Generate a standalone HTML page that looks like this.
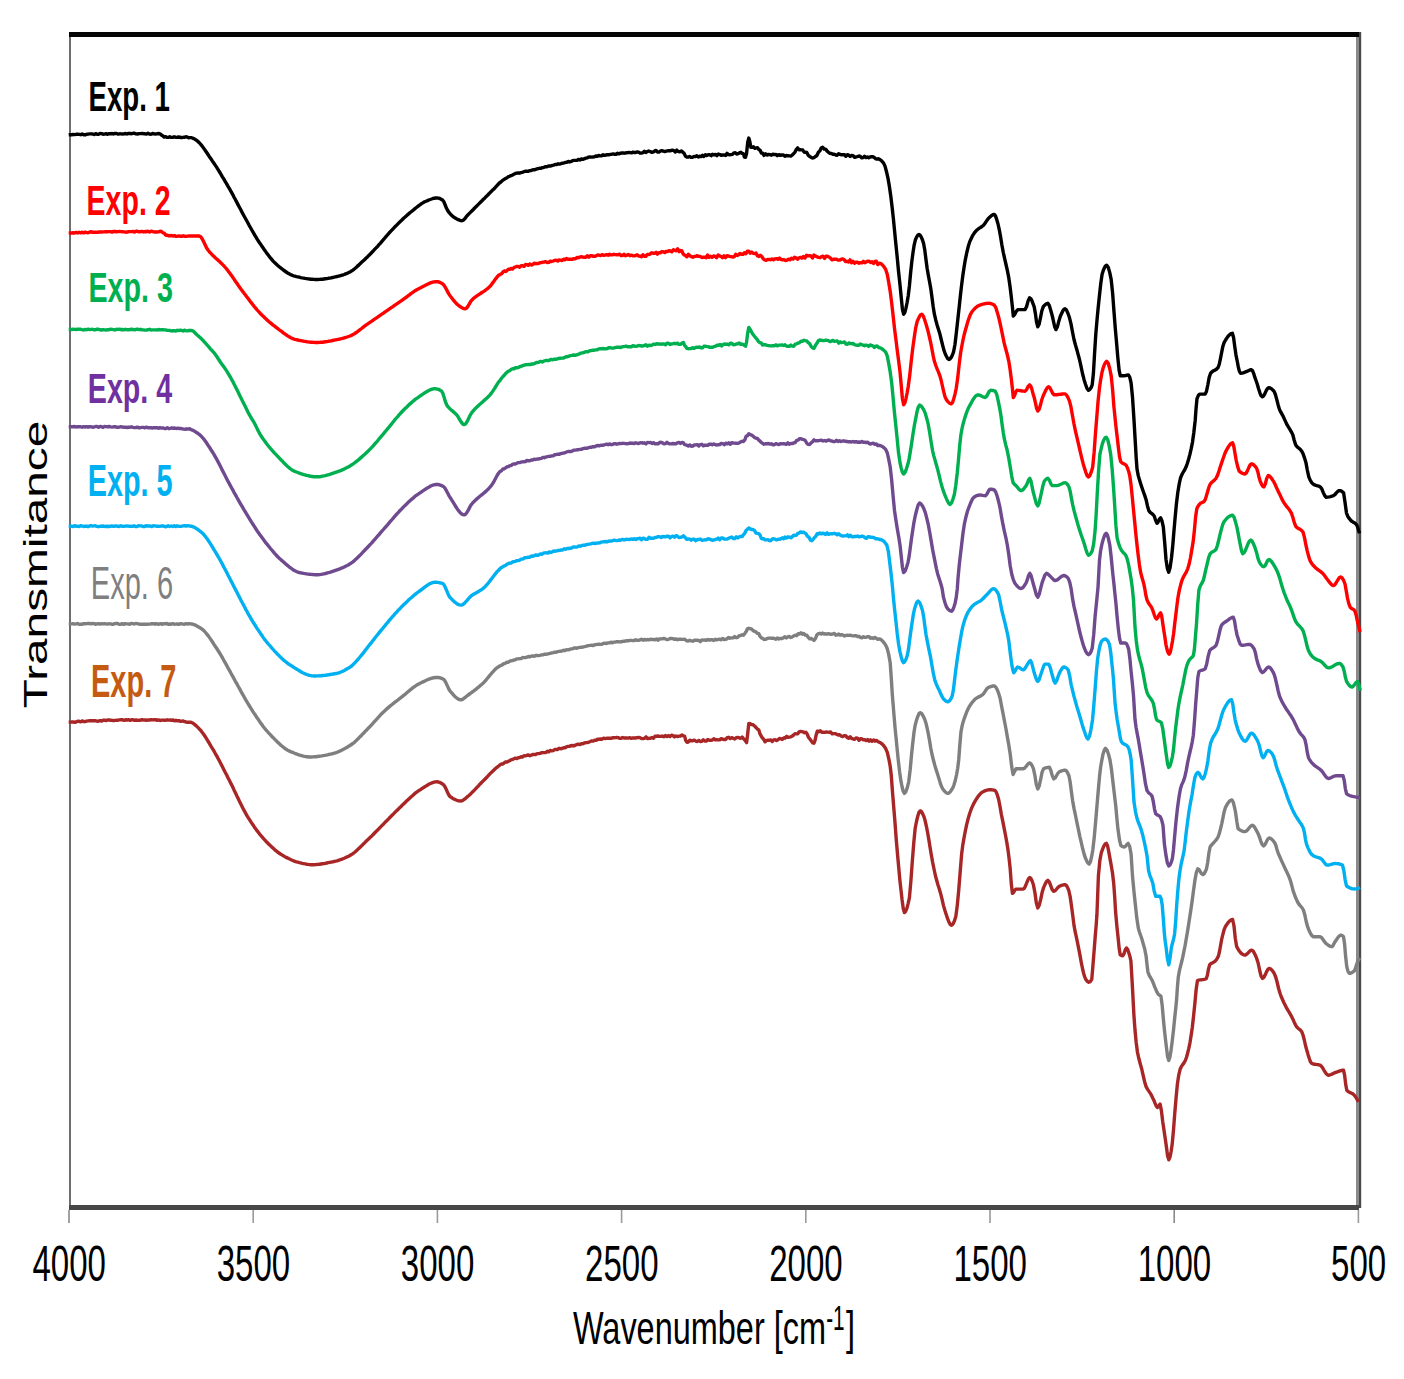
<!DOCTYPE html>
<html><head><meta charset="utf-8"><style>html,body{margin:0;padding:0;background:#fff;}svg{display:block;}</style></head><body>
<svg width="1404" height="1379" viewBox="0 0 1404 1379">
<rect width="1404" height="1379" fill="#fff"/>
<rect x="69" y="35" width="2" height="1173" fill="#6e6e6e"/>
<rect x="1356" y="32" width="2.6" height="1176" fill="#8a8a8a"/>
<rect x="1358.6" y="32" width="2.6" height="1176" fill="#4a4a4a"/>
<rect x="69" y="32" width="1290" height="5" fill="#050505"/>
<rect x="69" y="1205" width="1290" height="5" fill="#474747"/>
<polyline points="68.7,722.2 70.2,722.1 71.7,722.0 73.2,722.0 74.7,722.2 76.2,722.0 77.7,721.3 79.2,721.3 80.7,721.8 82.2,720.9 83.7,721.6 85.2,721.5 86.7,721.1 88.2,720.9 89.7,720.8 91.2,720.7 92.6,720.8 94.1,720.8 95.6,720.8 97.1,721.2 98.6,721.0 100.1,720.7 101.6,721.1 103.1,720.2 104.6,720.2 106.1,720.6 107.6,720.0 109.1,719.9 110.6,720.4 112.1,720.3 113.6,720.7 115.1,720.4 116.6,720.3 118.1,720.2 119.6,719.9 121.1,719.7 122.6,719.8 124.1,720.3 125.6,719.8 127.1,720.0 128.6,719.6 130.1,720.4 131.6,719.7 133.1,719.8 134.6,720.4 136.1,720.0 137.5,720.4 139.0,720.2 140.5,720.3 142.0,719.6 143.5,720.1 145.0,720.0 146.5,720.4 148.0,719.9 149.5,720.1 151.0,719.6 152.5,719.9 154.0,719.8 155.5,719.7 157.0,720.3 158.5,719.9 160.0,720.5 161.5,720.1 162.9,720.1 164.4,720.2 165.8,720.2 167.3,719.8 168.7,720.1 170.2,720.0 171.6,720.2 173.1,720.0 174.5,720.9 176.0,720.3 177.4,720.8 178.9,720.6 180.3,721.3 181.8,721.2 183.2,720.9 184.7,721.7 186.1,722.0 187.6,722.2 189.0,722.1 190.5,722.2 191.9,722.6 193.4,723.5 194.8,724.6 196.3,725.9 197.8,727.4 199.2,728.8 200.7,730.4 202.1,732.2 203.6,734.2 205.0,736.3 206.5,738.6 207.9,741.0 209.4,743.4 210.8,745.9 212.3,748.3 213.8,750.7 215.2,753.3 216.7,755.9 218.1,758.5 219.6,761.3 221.0,764.0 222.4,766.8 223.9,769.7 225.3,772.5 226.8,775.3 228.2,778.2 229.7,781.0 231.1,783.9 232.6,786.8 234.0,789.9 235.5,792.9 236.9,796.0 238.4,799.1 239.8,802.1 241.3,805.1 242.8,808.0 244.2,810.7 245.7,813.3 247.1,815.8 248.5,818.1 250.0,820.4 251.4,822.6 252.9,824.8 254.3,826.9 255.8,829.0 257.2,830.9 258.7,832.8 260.1,834.7 261.6,836.4 263.1,838.1 264.5,839.7 265.9,841.2 267.4,842.7 268.9,844.2 270.3,845.6 271.8,847.0 273.2,848.3 274.6,849.6 276.1,850.8 277.5,852.0 279.0,853.0 280.4,854.0 281.9,854.9 283.3,855.7 284.8,856.6 286.2,857.4 287.7,858.1 289.1,858.8 290.6,859.5 292.1,860.2 293.5,860.8 294.9,861.3 296.4,861.8 297.9,862.2 299.3,862.6 300.7,862.9 302.2,863.3 303.6,863.6 305.1,863.9 306.5,864.2 308.0,864.4 309.4,864.6 310.9,864.7 312.3,864.7 313.8,864.7 315.2,864.6 316.7,864.5 318.1,864.4 319.6,864.2 321.0,864.0 322.5,863.8 323.9,863.6 325.4,863.3 326.8,863.0 328.3,862.7 329.7,862.4 331.2,862.1 332.6,861.8 334.1,861.5 335.5,861.2 337.0,860.8 338.4,860.3 339.9,859.9 341.3,859.3 342.8,858.8 344.2,858.2 345.7,857.5 347.1,856.9 348.6,856.2 350.0,855.4 351.4,854.6 352.9,853.6 354.4,852.5 355.8,851.3 357.2,850.0 358.7,848.6 360.1,847.2 361.6,845.8 363.0,844.3 364.5,842.9 365.9,841.5 367.4,840.1 368.8,838.7 370.3,837.3 371.8,835.9 373.2,834.5 374.6,833.0 376.1,831.5 377.6,830.1 379.0,828.6 380.4,827.1 381.9,825.6 383.4,824.2 384.8,822.7 386.2,821.2 387.7,819.8 389.1,818.3 390.6,816.8 392.1,815.3 393.5,813.9 394.9,812.4 396.4,810.9 397.9,809.5 399.3,808.1 400.8,806.7 402.2,805.3 403.6,803.9 405.1,802.5 406.6,801.1 408.0,799.8 409.4,798.4 410.9,797.0 412.4,795.7 413.8,794.4 415.2,793.2 416.7,792.1 418.2,791.0 419.6,790.1 421.1,789.2 422.5,788.2 424.0,787.3 425.4,786.4 426.9,785.5 428.3,784.6 429.8,783.8 431.2,783.2 432.6,782.6 434.1,782.2 435.6,781.9 437.0,781.8 438.3,782.0 439.6,782.4 440.9,783.0 442.2,783.8 443.5,784.7 444.8,786.4 446.1,789.1 447.5,792.2 448.8,794.9 450.1,796.6 451.5,797.5 452.8,798.4 454.1,799.1 455.5,799.7 456.9,800.3 458.2,800.7 459.5,800.9 460.9,801.0 462.2,800.7 463.5,799.9 464.9,798.9 466.2,797.7 467.5,796.6 468.9,795.5 470.3,794.2 471.6,792.9 473.0,791.5 474.4,790.1 475.8,788.6 477.2,787.1 478.6,785.7 479.9,784.2 481.3,782.8 482.7,781.4 484.1,780.0 485.6,778.5 487.1,777.0 488.5,775.4 489.9,773.9 491.4,772.4 492.9,771.0 494.3,769.6 495.8,768.3 497.2,767.1 498.7,766.0 500.1,764.7 501.5,764.0 502.9,764.0 504.2,762.9 505.6,761.9 507.0,762.0 508.4,761.2 509.8,760.6 511.2,759.8 512.5,759.4 513.9,758.7 515.3,758.1 516.8,758.6 518.2,757.7 519.7,757.5 521.1,756.8 522.6,757.0 524.0,755.8 525.5,755.9 526.9,755.2 528.4,755.0 529.8,755.7 531.3,755.1 532.7,754.5 534.2,754.4 535.6,754.5 537.1,753.6 538.5,753.6 540.0,753.4 541.4,752.8 542.9,752.6 544.3,752.6 545.8,752.5 547.3,751.3 548.8,751.8 550.2,750.4 551.7,750.9 553.2,750.6 554.7,749.5 556.2,749.5 557.7,749.6 559.1,748.3 560.6,748.7 562.1,748.5 563.6,747.8 565.1,747.7 566.5,746.8 568.0,746.4 569.5,746.3 571.0,745.7 572.5,745.5 574.0,745.9 575.4,745.1 576.9,744.5 578.4,744.1 579.9,744.6 581.4,743.7 582.8,743.9 584.3,743.0 585.8,742.6 587.3,742.6 588.8,742.1 590.3,741.5 591.7,740.9 593.2,741.1 594.7,740.2 596.2,740.4 597.7,739.1 599.1,739.2 600.6,739.0 602.1,739.2 603.6,738.2 605.1,738.6 606.6,738.3 608.0,738.2 609.5,738.1 611.0,738.4 612.5,737.7 613.9,737.8 615.4,737.6 616.8,737.4 618.2,737.6 619.7,738.4 621.1,738.3 622.6,737.5 624.0,738.0 625.5,737.9 627.0,738.0 628.4,738.1 629.9,737.7 631.3,738.4 632.8,737.9 634.2,738.0 635.6,738.0 637.1,737.6 638.5,737.4 640.0,737.7 641.5,738.5 643.0,738.6 644.5,738.3 646.0,736.9 647.5,738.6 649.0,738.3 650.5,738.4 652.0,737.5 653.5,738.3 655.0,736.3 656.5,736.2 658.0,736.0 659.5,736.4 661.0,736.3 662.5,736.1 664.0,736.8 665.5,735.5 667.0,736.6 668.5,735.6 670.0,736.6 671.5,735.1 673.0,735.6 674.5,736.9 676.0,736.0 677.5,736.5 679.0,736.1 680.5,736.0 682.0,735.0 683.5,735.9 684.6,736.1 685.7,740.4 686.8,742.2 688.3,742.0 689.8,740.2 691.3,740.8 692.8,740.7 694.3,740.2 695.8,741.2 697.3,741.5 698.8,740.4 700.3,741.5 701.8,741.3 703.3,739.7 704.8,741.0 706.3,741.1 707.8,739.5 709.3,740.2 710.8,740.2 712.3,740.0 713.8,738.7 715.2,739.8 716.7,739.6 718.2,739.9 719.7,739.8 721.2,738.6 722.7,739.3 724.2,739.5 725.7,739.5 727.2,737.7 728.7,737.3 730.2,738.6 731.7,737.6 733.2,738.3 734.7,739.0 736.2,737.7 737.7,737.4 739.2,737.8 740.7,738.3 742.2,737.0 743.7,738.8 745.1,740.3 746.6,742.6 747.7,733.7 748.8,723.4 750.2,723.6 751.7,724.6 753.1,724.8 754.6,726.0 756.0,727.5 757.5,729.1 758.8,730.0 760.0,733.9 761.3,736.2 762.6,738.2 763.8,739.5 765.1,741.8 766.5,740.4 768.0,740.3 769.4,740.2 770.8,739.9 772.3,741.5 773.7,739.9 775.1,739.7 776.6,740.6 778.0,739.8 779.4,738.5 780.8,738.7 782.3,739.4 783.7,737.9 785.1,738.2 786.6,736.4 788.0,737.4 789.4,737.1 790.9,736.8 792.3,736.1 793.7,734.9 795.0,733.6 796.4,733.9 797.8,733.7 799.1,731.8 800.5,731.4 801.8,731.6 803.2,731.9 804.6,732.7 805.9,732.3 807.2,734.1 808.6,737.5 810.0,739.1 811.3,741.0 812.6,742.8 814.0,743.2 815.1,740.2 816.2,734.8 817.3,731.2 818.8,731.7 820.3,730.8 821.8,732.2 823.3,732.3 824.7,732.4 826.2,732.0 827.7,732.1 829.2,732.4 830.7,731.9 832.2,733.9 833.7,733.6 835.2,733.6 836.7,734.3 838.1,735.0 839.6,734.7 841.1,736.0 842.6,736.6 844.1,735.8 845.6,735.6 847.1,737.4 848.6,738.2 850.1,736.7 851.5,738.3 853.0,738.9 854.5,739.4 856.0,737.9 857.5,738.1 859.0,740.3 860.4,738.6 861.9,738.9 863.3,739.9 864.8,739.8 866.2,740.6 867.7,739.5 869.1,741.2 870.6,739.9 872.0,741.3 873.5,739.9 874.9,741.1 876.4,740.4 877.8,741.4 879.3,742.2 880.6,742.8 881.9,743.8 883.2,745.1 884.5,746.8 885.8,748.8 887.3,752.4 888.7,758.3 890.2,766.2 891.3,775.8 892.3,789.4 893.4,803.2 894.9,821.4 896.3,840.1 897.8,857.5 898.9,869.4 899.9,880.6 901.0,890.2 902.1,900.0 903.3,908.7 904.4,912.5 905.6,911.4 906.9,908.3 908.1,903.6 909.4,897.8 910.8,882.2 912.3,861.5 913.8,842.5 915.2,828.2 916.5,821.5 917.8,816.0 919.0,812.2 920.3,810.8 921.5,811.7 922.7,813.8 923.9,816.6 925.1,820.6 926.4,826.3 927.6,832.5 928.8,839.4 930.0,847.0 931.2,854.3 932.6,862.1 934.1,869.5 935.5,876.0 936.8,880.8 938.0,885.0 939.3,889.0 940.6,893.4 942.1,899.4 943.5,905.6 945.0,910.8 946.3,914.7 947.6,918.6 948.9,922.0 950.2,924.4 951.5,925.3 952.9,924.1 954.4,921.1 955.8,916.6 957.2,906.1 958.7,890.5 960.2,871.7 961.6,854.3 962.8,845.0 964.1,837.5 965.3,831.1 966.7,824.4 968.2,818.5 969.6,813.7 971.0,809.7 972.5,806.2 974.0,803.1 975.4,800.6 976.9,798.3 978.3,796.2 979.8,794.4 981.2,792.9 982.7,791.9 984.1,791.2 985.6,790.6 987.0,790.1 988.5,789.8 989.9,789.7 991.2,789.8 992.5,789.9 993.7,790.2 995.0,790.5 996.2,792.0 997.4,795.2 998.6,799.2 1000.0,806.5 1001.5,815.1 1003.0,822.3 1004.4,829.6 1005.6,835.8 1006.8,842.4 1008.0,849.9 1009.1,858.6 1010.2,868.8 1011.3,883.8 1012.4,893.4 1013.6,892.3 1014.8,890.2 1016.0,889.1 1017.5,889.1 1018.9,889.1 1020.4,889.1 1021.8,889.1 1023.3,889.1 1024.6,887.9 1025.9,885.0 1027.2,881.6 1028.5,878.7 1029.8,877.5 1031.0,878.6 1032.2,881.3 1033.4,884.7 1034.9,892.6 1036.3,902.8 1037.8,907.9 1039.2,905.3 1040.7,899.4 1042.1,892.6 1043.6,887.6 1045.0,884.3 1046.5,881.6 1047.9,880.4 1049.4,882.1 1050.8,885.9 1052.2,889.6 1053.7,891.3 1055.2,890.6 1056.6,889.0 1058.0,887.3 1059.5,886.2 1060.9,885.6 1062.3,885.2 1063.8,884.8 1065.2,884.7 1066.4,885.5 1067.6,887.6 1068.8,890.5 1070.2,896.9 1071.5,906.0 1072.8,915.9 1074.0,925.4 1075.0,931.0 1076.1,935.8 1077.1,940.6 1078.6,948.1 1080.1,955.8 1081.3,962.7 1082.6,969.0 1083.6,973.2 1084.7,976.8 1085.7,979.2 1087.2,981.3 1088.7,982.2 1089.7,981.9 1090.8,980.9 1091.8,979.2 1093.3,960.9 1094.3,948.3 1095.3,935.5 1096.1,926.2 1096.9,915.2 1098.4,876.0 1099.8,860.8 1101.3,852.8 1102.6,849.1 1103.8,846.1 1105.1,844.1 1106.4,843.4 1107.6,846.0 1108.8,851.9 1110.0,858.6 1111.2,865.2 1112.5,873.0 1113.7,883.3 1114.7,897.0 1115.6,912.0 1116.9,926.4 1118.2,938.6 1119.2,948.8 1120.2,954.8 1121.5,955.5 1122.7,955.8 1124.0,953.8 1125.2,950.0 1126.5,948.0 1127.7,949.6 1128.8,952.8 1129.8,955.9 1130.9,960.9 1132.4,986.3 1133.9,1015.0 1135.0,1030.0 1136.2,1042.5 1137.4,1051.8 1138.9,1058.8 1140.3,1064.0 1141.8,1069.3 1143.2,1075.6 1144.7,1082.0 1146.1,1086.7 1147.6,1089.4 1149.0,1091.4 1150.5,1093.6 1151.7,1095.8 1152.8,1098.2 1154.0,1100.6 1155.1,1103.4 1156.3,1106.2 1157.4,1107.5 1158.8,1105.8 1160.1,1104.1 1161.4,1110.6 1162.7,1121.5 1164.0,1130.3 1165.3,1138.9 1166.5,1147.6 1167.6,1156.0 1168.8,1159.8 1169.9,1157.4 1171.1,1151.6 1172.2,1144.1 1173.5,1130.0 1174.8,1112.8 1176.2,1096.5 1177.5,1083.2 1178.8,1074.8 1180.1,1069.3 1181.4,1066.5 1182.7,1064.6 1184.0,1062.9 1185.3,1060.5 1186.5,1057.3 1187.6,1053.2 1188.8,1048.4 1190.0,1042.6 1191.1,1035.6 1192.3,1027.5 1193.6,1015.8 1194.9,1003.1 1196.2,989.0 1197.5,980.5 1198.8,980.1 1200.1,979.9 1201.4,979.8 1202.7,979.6 1203.9,979.4 1205.0,979.1 1206.2,978.7 1207.4,975.2 1208.5,968.9 1209.7,964.8 1211.0,963.6 1212.3,962.9 1213.6,962.2 1214.9,961.3 1216.1,960.1 1217.2,958.4 1218.4,956.1 1219.5,951.5 1220.7,944.7 1221.8,938.7 1223.0,933.9 1224.1,929.7 1225.3,926.8 1226.8,924.5 1228.2,922.5 1229.7,920.9 1231.1,919.9 1232.6,919.5 1234.0,926.0 1235.3,938.5 1236.7,946.7 1238.1,949.2 1239.5,951.2 1240.8,952.9 1242.2,954.1 1243.6,954.8 1245.0,955.1 1246.3,954.6 1247.7,953.3 1249.0,951.9 1250.4,950.6 1251.7,950.1 1253.0,950.9 1254.2,952.9 1255.5,955.5 1256.7,958.4 1258.2,963.3 1259.6,970.0 1261.0,975.9 1262.5,978.4 1263.8,977.4 1265.2,974.9 1266.5,971.9 1267.9,969.4 1269.2,968.4 1270.5,968.8 1271.7,969.9 1273.0,971.5 1274.2,973.4 1275.7,977.0 1277.2,982.5 1278.6,988.5 1280.1,993.5 1281.3,996.8 1282.6,999.8 1283.8,1002.5 1285.1,1005.1 1286.4,1007.6 1287.7,1009.9 1289.1,1012.2 1290.4,1014.4 1291.7,1016.8 1293.0,1019.4 1294.2,1022.2 1295.5,1024.8 1296.7,1026.8 1298.0,1028.2 1299.2,1029.2 1300.5,1030.2 1301.8,1031.8 1303.0,1035.0 1304.3,1040.0 1305.5,1045.5 1306.8,1050.2 1308.0,1054.4 1309.3,1058.5 1310.5,1061.9 1311.8,1063.5 1313.2,1064.0 1314.6,1064.2 1315.9,1064.4 1317.3,1064.6 1318.7,1064.8 1320.1,1065.2 1321.5,1066.3 1322.9,1068.2 1324.2,1070.6 1325.6,1072.8 1327.0,1074.5 1328.4,1075.2 1329.7,1075.0 1331.1,1074.5 1332.4,1073.9 1333.8,1073.2 1335.1,1072.7 1336.5,1072.2 1337.9,1071.6 1339.3,1071.1 1340.7,1070.6 1342.1,1070.3 1343.5,1070.2 1344.6,1075.1 1345.7,1084.4 1346.8,1090.2 1348.1,1091.5 1349.5,1092.3 1350.8,1092.9 1352.2,1093.5 1353.5,1094.4 1354.8,1095.8 1356.0,1097.5 1357.2,1099.6 1358.5,1101.9" fill="none" stroke="#a82626" stroke-width="3.4" stroke-linejoin="round" stroke-linecap="butt"/>
<polyline points="68.7,623.9 70.2,623.9 71.7,623.9 73.2,623.7 74.6,624.1 76.1,623.9 77.6,623.5 79.1,624.4 80.6,624.3 82.1,624.3 83.6,623.6 85.0,623.8 86.5,623.6 88.0,623.5 89.5,623.4 91.0,623.9 92.5,623.5 94.0,623.6 95.4,624.3 96.9,623.9 98.4,623.6 99.9,624.1 101.4,623.7 102.9,623.9 104.3,623.7 105.8,623.9 107.3,624.0 108.8,623.9 110.3,623.8 111.8,624.2 113.3,624.3 114.7,623.6 116.2,623.5 117.7,623.5 119.2,624.4 120.7,624.3 122.2,623.6 123.7,624.4 125.1,623.6 126.6,623.9 128.1,623.9 129.6,624.3 131.1,623.4 132.6,623.7 134.1,624.0 135.5,623.5 137.0,623.6 138.5,623.9 140.0,624.3 141.5,624.2 143.0,624.2 144.5,624.2 145.9,624.1 147.4,624.2 148.9,624.1 150.4,624.1 151.9,623.7 153.4,623.6 154.9,624.2 156.3,623.6 157.8,624.3 159.3,624.0 160.8,623.7 162.3,624.3 163.8,623.6 165.2,623.9 166.7,623.5 168.2,624.4 169.7,624.0 171.2,624.2 172.7,623.7 174.2,624.2 175.6,624.1 177.1,624.0 178.6,624.4 180.1,623.8 181.6,623.8 183.1,624.1 184.6,624.2 186.0,623.7 187.5,624.1 189.0,623.6 190.5,623.9 191.9,624.0 193.2,624.3 194.6,624.8 195.9,625.4 197.3,626.2 198.7,627.0 200.0,627.8 201.4,628.7 202.8,629.7 204.2,631.0 205.5,632.5 206.9,634.1 208.3,635.9 209.7,637.9 211.1,639.9 212.5,642.0 213.8,644.1 215.2,646.2 216.6,648.3 218.0,650.5 219.5,652.8 220.9,655.2 222.4,657.7 223.8,660.3 225.3,662.9 226.8,665.6 228.2,668.2 229.7,670.9 231.1,673.5 232.6,676.1 234.0,678.7 235.4,681.3 236.9,683.9 238.3,686.5 239.8,689.1 241.2,691.8 242.7,694.4 244.2,697.0 245.6,699.6 247.1,702.1 248.5,704.5 250.0,706.9 251.4,709.2 252.8,711.4 254.3,713.6 255.8,715.8 257.2,718.0 258.7,720.1 260.1,722.2 261.6,724.2 263.0,726.2 264.4,728.0 265.9,729.8 267.4,731.5 268.8,733.1 270.3,734.6 271.7,736.2 273.2,737.7 274.6,739.2 276.1,740.6 277.5,742.1 279.0,743.4 280.4,744.8 281.9,746.0 283.3,747.2 284.8,748.3 286.2,749.3 287.7,750.2 289.1,750.9 290.6,751.6 292.0,752.2 293.4,752.7 294.8,753.3 296.2,753.8 297.6,754.4 299.0,754.9 300.4,755.3 301.8,755.7 303.2,756.1 304.6,756.4 306.0,756.7 307.4,756.8 308.8,757.0 310.2,757.0 311.6,757.0 313.1,756.9 314.5,756.8 316.0,756.7 317.4,756.5 318.9,756.3 320.3,756.1 321.8,755.9 323.2,755.6 324.7,755.4 326.1,755.1 327.6,754.8 329.0,754.4 330.5,754.1 331.9,753.8 333.3,753.5 334.7,753.0 336.1,752.6 337.5,752.1 338.9,751.5 340.3,750.9 341.6,750.2 343.0,749.5 344.4,748.8 345.8,748.0 347.2,747.2 348.6,746.3 350.0,745.5 351.4,744.5 352.9,743.5 354.4,742.3 355.8,741.0 357.2,739.6 358.7,738.2 360.1,736.7 361.6,735.2 363.0,733.7 364.5,732.2 365.9,730.7 367.4,729.2 368.8,727.7 370.3,726.2 371.8,724.6 373.2,723.0 374.6,721.4 376.1,719.8 377.6,718.2 379.0,716.6 380.4,715.0 381.9,713.5 383.4,712.1 384.8,710.7 386.2,709.4 387.7,708.1 389.1,706.9 390.6,705.7 392.1,704.5 393.5,703.3 394.9,702.2 396.4,701.1 397.9,700.0 399.3,698.8 400.8,697.7 402.2,696.6 403.6,695.4 405.1,694.3 406.6,693.0 408.0,691.8 409.4,690.6 410.9,689.4 412.4,688.2 413.8,687.1 415.2,686.1 416.7,685.1 418.2,684.3 419.6,683.5 421.1,682.8 422.5,682.1 424.0,681.4 425.4,680.7 426.9,680.0 428.3,679.4 429.8,678.9 431.2,678.4 432.6,678.0 434.1,677.7 435.6,677.5 437.0,677.4 438.3,677.5 439.6,677.7 440.9,678.1 442.2,678.6 443.5,679.2 444.8,680.6 446.1,683.1 447.5,686.1 448.8,689.0 450.1,691.1 451.5,692.7 452.8,694.2 454.1,695.7 455.5,697.0 456.9,698.1 458.2,699.0 459.5,699.6 460.9,699.8 462.2,699.5 463.5,698.7 464.9,697.7 466.2,696.5 467.5,695.5 468.9,694.5 470.3,693.5 471.6,692.5 473.0,691.5 474.4,690.4 475.8,689.3 477.2,688.2 478.6,687.1 479.9,685.9 481.3,684.7 482.7,683.5 484.1,682.2 485.5,680.7 486.8,679.0 488.2,677.4 489.6,675.7 491.0,674.0 492.4,672.3 493.8,670.8 495.1,669.4 496.5,668.2 497.9,667.2 499.3,666.3 500.8,665.5 502.2,664.9 503.7,663.6 505.1,663.5 506.6,662.2 508.0,662.4 509.5,661.4 510.9,660.8 512.4,660.6 513.8,660.0 515.3,659.8 516.8,658.9 518.2,658.9 519.7,658.6 521.1,658.6 522.6,657.5 524.0,657.6 525.5,657.5 526.9,657.2 528.4,656.5 529.8,656.8 531.3,656.2 532.7,655.9 534.2,656.3 535.6,655.5 537.1,655.5 538.5,655.6 540.0,655.3 541.4,654.9 542.9,654.9 544.3,654.3 545.8,654.2 547.3,654.1 548.8,653.7 550.2,653.4 551.7,652.9 553.2,652.7 554.7,652.2 556.2,652.2 557.7,651.6 559.1,651.4 560.6,651.3 562.1,650.8 563.6,650.3 565.1,650.5 566.5,649.8 568.0,649.9 569.5,649.5 571.0,648.9 572.5,648.9 574.0,648.0 575.4,648.0 576.9,648.2 578.4,647.7 579.9,647.4 581.4,647.2 582.8,647.0 584.3,646.7 585.8,646.3 587.3,645.8 588.8,645.6 590.3,645.4 591.7,645.3 593.2,645.5 594.7,644.7 596.2,644.6 597.7,644.3 599.1,644.2 600.6,644.4 602.1,644.1 603.6,643.4 605.1,643.1 606.6,643.5 608.0,642.9 609.5,642.9 611.0,642.2 612.5,642.8 613.9,642.1 615.4,642.1 616.8,641.7 618.2,641.7 619.7,641.9 621.1,641.8 622.6,641.3 624.0,641.4 625.5,641.0 627.0,640.8 628.4,640.8 629.9,640.4 631.3,640.4 632.8,640.6 634.2,640.6 635.6,639.8 637.1,640.3 638.5,640.4 640.0,639.9 641.5,639.2 643.0,640.2 644.5,639.4 646.0,640.0 647.5,639.5 649.0,639.9 650.5,639.2 652.0,639.5 653.5,639.5 655.0,639.7 656.5,638.9 658.0,640.2 659.5,638.9 661.0,638.9 662.5,638.8 664.0,638.4 665.5,639.0 667.0,639.6 668.5,639.4 670.0,638.5 671.5,638.4 673.0,638.7 674.5,639.4 676.0,638.9 677.5,639.7 679.0,639.2 680.5,639.1 682.0,639.4 683.5,639.4 684.6,639.2 685.7,640.0 686.8,640.9 688.3,641.0 689.8,640.3 691.3,640.9 692.8,641.2 694.3,640.3 695.8,640.3 697.3,640.3 698.8,640.4 700.3,641.6 701.8,639.9 703.3,640.1 704.8,640.0 706.3,640.4 707.8,639.5 709.3,640.2 710.8,639.6 712.3,639.7 713.8,640.5 715.2,639.3 716.7,639.9 718.2,639.4 719.7,639.2 721.2,639.8 722.7,638.4 724.2,639.6 725.7,639.3 727.2,638.7 728.7,637.4 730.2,638.2 731.7,637.9 733.2,637.9 734.7,636.6 736.2,637.7 737.7,637.3 739.2,635.6 740.7,635.6 742.2,634.8 743.5,635.2 744.8,633.5 746.2,631.4 747.5,628.9 748.8,628.3 750.2,628.6 751.7,629.1 753.1,630.7 754.6,631.3 756.0,632.0 757.5,633.4 758.8,633.7 760.1,636.4 761.4,637.8 762.7,638.3 764.0,639.5 765.5,639.4 767.0,638.6 768.5,638.1 770.0,638.1 771.4,638.2 772.9,638.3 774.4,638.5 775.9,639.3 777.4,638.0 778.9,639.0 780.4,638.4 781.9,638.6 783.4,637.7 784.9,636.8 786.3,638.0 787.8,636.9 789.3,636.5 790.8,637.5 792.3,637.0 793.8,635.8 795.2,635.2 796.6,635.7 798.1,633.7 799.5,634.0 801.0,632.7 802.4,634.2 803.9,633.5 805.3,635.1 806.8,635.3 808.2,637.3 809.7,638.9 811.1,638.4 812.6,639.4 814.0,640.5 815.5,638.5 816.9,634.8 818.4,633.6 819.8,633.3 821.3,634.1 822.7,633.1 824.2,634.0 825.6,633.8 827.1,634.1 828.5,633.6 830.0,634.3 831.4,634.3 832.9,633.9 834.3,633.4 835.8,635.2 837.2,634.9 838.7,634.1 840.1,635.2 841.6,634.6 843.0,635.1 844.5,636.0 845.9,635.4 847.4,635.3 848.8,635.4 850.3,635.2 851.7,635.6 853.2,635.9 854.6,635.8 856.1,635.8 857.5,636.6 859.0,636.3 860.4,637.4 861.9,637.8 863.3,636.7 864.8,637.4 866.2,637.3 867.7,636.6 869.1,636.8 870.6,638.3 872.0,637.7 873.5,638.5 874.9,637.4 876.4,638.5 877.8,639.3 879.3,638.9 880.6,639.4 881.9,640.4 883.2,641.7 884.5,643.4 885.8,645.4 887.3,648.8 888.7,654.4 890.2,662.8 891.2,676.9 892.3,694.4 893.8,712.8 895.2,729.3 896.7,744.4 898.1,758.7 899.6,771.8 901.0,781.4 902.1,787.0 903.3,791.5 904.4,793.4 905.8,791.8 907.3,787.6 908.7,781.8 910.2,769.5 911.6,754.0 912.8,742.8 914.0,732.2 915.2,725.0 916.5,720.3 917.8,716.4 919.0,713.7 920.3,712.7 921.8,713.7 923.2,716.1 924.7,719.2 925.9,722.9 927.1,728.0 928.3,733.7 929.5,740.3 930.7,747.6 931.9,754.0 933.4,760.0 934.8,765.2 936.2,769.9 937.7,774.5 939.0,778.7 940.2,782.9 941.5,786.5 942.8,789.0 944.1,790.6 945.3,792.0 946.6,793.0 947.9,793.4 949.1,792.9 950.4,791.6 951.6,789.8 952.9,787.6 954.1,784.5 955.4,780.0 956.6,774.5 957.7,768.3 958.7,760.0 959.8,745.5 960.9,732.3 962.1,725.9 963.3,721.4 964.5,717.8 965.8,714.3 967.0,711.2 968.3,708.5 969.6,706.2 971.0,704.0 972.5,702.0 974.0,700.3 975.4,698.9 976.9,697.9 978.3,697.1 979.8,696.4 981.2,695.6 982.7,694.6 984.2,692.9 985.6,690.7 987.0,688.5 988.5,687.3 990.0,686.8 991.4,686.3 992.8,686.0 994.3,685.9 995.7,687.0 997.2,689.7 998.6,693.1 1000.1,698.3 1001.5,705.7 1003.0,713.4 1004.4,720.8 1005.9,728.5 1007.3,736.6 1008.8,745.0 1010.2,754.0 1011.7,766.6 1013.1,774.5 1014.5,771.6 1016.0,768.7 1017.5,768.7 1018.9,768.7 1020.4,768.7 1021.8,768.7 1023.3,768.7 1024.6,768.1 1025.9,766.7 1027.2,764.9 1028.5,763.5 1029.8,762.9 1031.0,763.8 1032.2,765.9 1033.4,768.7 1034.9,775.5 1036.3,784.5 1037.8,789.0 1039.2,786.0 1040.7,779.2 1042.1,772.2 1043.6,768.7 1045.0,768.1 1046.5,767.7 1048.0,767.4 1049.4,767.3 1050.8,770.3 1052.3,775.9 1053.7,778.9 1055.2,777.9 1056.6,775.5 1058.0,773.1 1059.5,771.6 1061.0,771.1 1062.4,770.6 1063.8,770.3 1065.3,770.2 1066.5,771.0 1067.8,773.1 1069.0,776.0 1070.2,782.2 1071.4,791.8 1072.6,800.6 1074.0,808.4 1075.5,815.5 1076.9,822.4 1078.4,829.5 1079.8,836.3 1081.3,842.7 1082.7,848.8 1084.2,854.4 1085.6,858.6 1086.8,861.1 1088.0,863.2 1089.2,864.0 1090.4,861.9 1091.6,856.7 1092.8,850.0 1094.2,837.8 1095.6,822.0 1097.0,805.5 1098.4,789.0 1099.5,776.8 1100.6,767.3 1101.8,760.3 1103.0,754.2 1104.3,749.9 1105.5,748.3 1107.0,750.0 1108.5,754.3 1110.0,760.0 1111.5,769.5 1112.9,781.8 1114.3,793.6 1115.8,806.4 1116.9,818.6 1118.0,829.6 1119.5,840.0 1120.9,845.6 1122.1,846.4 1123.3,846.8 1124.5,847.0 1125.7,846.1 1127.0,844.3 1128.2,843.4 1129.7,846.5 1131.1,854.3 1132.5,876.0 1134.0,891.8 1135.4,905.0 1136.8,918.1 1138.3,928.0 1139.5,932.2 1140.6,935.3 1141.8,938.7 1143.2,943.6 1144.7,949.0 1146.1,956.1 1147.0,964.5 1147.9,971.8 1149.3,975.6 1150.8,978.0 1152.2,980.5 1153.4,983.3 1154.5,986.4 1155.7,989.2 1157.0,992.2 1158.3,994.4 1159.6,995.2 1160.9,996.1 1162.2,1005.6 1163.5,1020.5 1164.4,1029.6 1165.3,1037.9 1166.5,1047.9 1167.6,1056.7 1168.8,1060.5 1169.9,1057.3 1171.1,1049.9 1172.2,1041.4 1173.5,1030.0 1174.8,1017.0 1175.7,1008.7 1176.6,999.6 1177.4,987.4 1178.3,977.0 1179.5,970.4 1180.6,965.9 1181.8,961.3 1182.9,956.4 1183.9,951.4 1185.0,946.0 1186.3,938.5 1187.7,930.4 1189.0,922.0 1190.5,912.3 1192.0,902.1 1193.5,890.6 1194.9,880.4 1196.3,872.7 1197.8,868.8 1199.1,869.7 1200.3,871.7 1201.6,873.7 1202.9,874.6 1204.1,873.8 1205.3,871.7 1206.5,868.8 1207.7,862.3 1208.9,853.0 1210.1,847.0 1211.3,845.2 1212.5,844.0 1213.7,842.7 1215.2,841.0 1216.6,839.3 1218.1,836.9 1219.3,833.5 1220.5,828.8 1221.7,823.8 1222.9,818.1 1224.1,812.0 1225.3,807.9 1226.6,805.4 1227.9,803.2 1229.3,801.4 1230.6,800.3 1231.9,799.9 1233.1,801.8 1234.3,806.4 1235.5,812.0 1236.8,821.3 1238.0,828.4 1239.4,829.6 1240.9,830.5 1242.3,831.1 1243.8,831.5 1245.2,831.6 1246.6,830.9 1248.0,829.3 1249.5,827.5 1250.9,825.9 1252.3,825.2 1253.7,826.0 1255.1,828.0 1256.5,830.6 1257.9,833.2 1259.3,836.6 1260.7,840.8 1262.1,844.4 1263.5,845.9 1264.9,844.7 1266.3,842.0 1267.7,839.2 1269.1,838.0 1270.5,838.4 1271.9,839.4 1273.3,840.9 1274.7,842.8 1275.8,845.3 1276.8,848.9 1277.9,852.3 1279.2,855.5 1280.5,858.4 1281.7,861.1 1283.0,863.9 1284.3,866.7 1285.6,869.4 1286.8,872.0 1288.1,874.7 1289.3,877.7 1290.6,881.1 1292.0,886.4 1293.4,891.7 1294.7,895.2 1295.9,898.3 1297.2,901.1 1298.4,903.4 1299.7,905.1 1300.9,906.5 1302.2,908.0 1303.4,910.0 1304.8,914.8 1306.2,921.5 1307.6,926.7 1309.0,930.3 1310.5,933.5 1312.0,935.8 1313.4,936.7 1314.7,936.7 1316.1,936.7 1317.4,936.7 1318.8,936.7 1320.1,936.7 1321.5,937.5 1323.0,939.5 1324.5,941.7 1325.9,943.4 1327.4,944.5 1328.8,945.6 1330.3,946.4 1331.8,946.7 1332.9,945.7 1334.0,943.6 1335.1,941.7 1336.6,939.6 1338.0,937.4 1339.5,935.8 1341.0,935.1 1342.2,935.5 1343.5,936.7 1344.6,944.1 1345.7,957.3 1346.8,966.8 1348.0,971.3 1349.3,973.4 1350.5,973.2 1351.8,972.7 1353.0,971.9 1354.3,970.9 1355.4,968.6 1356.5,964.9 1357.6,961.8 1358.8,959.6 1360.0,958.0" fill="none" stroke="#7f7f7f" stroke-width="3.4" stroke-linejoin="round" stroke-linecap="butt"/>
<polyline points="68.7,526.2 70.2,526.2 71.7,526.2 73.2,526.6 74.6,525.7 76.1,526.2 77.6,526.1 79.1,526.5 80.6,525.8 82.1,526.0 83.6,526.5 85.0,526.2 86.5,526.2 88.0,526.7 89.5,526.0 91.0,525.7 92.5,526.1 94.0,525.9 95.4,525.8 96.9,526.3 98.4,526.7 99.9,526.3 101.4,526.3 102.9,526.0 104.3,526.3 105.8,526.5 107.3,526.3 108.8,526.5 110.3,526.3 111.8,525.9 113.3,526.3 114.7,526.2 116.2,525.9 117.7,526.3 119.2,526.5 120.7,525.8 122.2,526.2 123.7,526.4 125.1,526.1 126.6,526.0 128.1,526.1 129.6,526.2 131.1,526.4 132.6,526.3 134.1,525.8 135.5,526.5 137.0,526.6 138.5,525.8 140.0,525.9 141.5,525.9 143.0,526.5 144.5,526.6 145.9,525.7 147.4,526.0 148.9,525.9 150.4,526.2 151.9,526.6 153.4,525.8 154.9,525.9 156.3,526.2 157.8,526.2 159.3,526.4 160.8,526.1 162.3,525.8 163.8,526.1 165.2,526.7 166.7,526.5 168.2,525.8 169.7,526.5 171.2,526.0 172.7,526.5 174.2,525.7 175.6,526.6 177.1,525.9 178.6,526.2 180.1,526.4 181.6,526.2 183.1,525.9 184.6,525.8 186.0,526.0 187.5,525.8 189.0,525.9 190.5,526.2 191.9,526.3 193.2,526.8 194.6,527.4 195.9,528.2 197.3,529.1 198.7,530.1 200.0,531.2 201.4,532.3 202.8,533.5 204.2,535.0 205.5,536.7 206.9,538.5 208.3,540.5 209.7,542.6 211.1,544.9 212.5,547.1 213.8,549.4 215.2,551.7 216.6,554.0 218.0,556.4 219.5,558.9 220.9,561.5 222.4,564.2 223.8,567.0 225.3,569.8 226.8,572.6 228.2,575.5 229.7,578.3 231.1,581.2 232.6,583.9 234.0,586.7 235.4,589.4 236.9,592.2 238.3,595.1 239.8,597.9 241.2,600.7 242.7,603.5 244.2,606.3 245.6,609.1 247.1,611.7 248.5,614.4 250.0,616.9 251.4,619.3 252.8,621.7 254.3,624.0 255.8,626.3 257.2,628.6 258.7,630.8 260.1,632.9 261.6,635.0 263.0,637.1 264.4,639.1 265.9,641.0 267.4,642.8 268.8,644.5 270.3,646.2 271.7,647.8 273.2,649.5 274.6,651.1 276.1,652.6 277.5,654.2 279.0,655.6 280.4,657.1 281.9,658.5 283.3,659.8 284.8,661.0 286.2,662.2 287.7,663.3 289.1,664.4 290.6,665.3 292.1,666.2 293.5,667.2 295.0,668.1 296.5,669.0 297.9,669.9 299.4,670.8 300.8,671.7 302.3,672.5 303.8,673.2 305.2,673.9 306.7,674.5 308.1,675.0 309.6,675.4 311.1,675.7 312.5,675.9 314.0,676.0 315.5,676.0 316.9,675.9 318.4,675.9 319.9,675.8 321.3,675.7 322.8,675.5 324.3,675.4 325.7,675.2 327.2,675.0 328.7,674.8 330.1,674.5 331.6,674.3 333.1,674.0 334.5,673.8 336.0,673.5 337.4,673.2 338.8,672.8 340.2,672.3 341.6,671.7 343.0,671.1 344.4,670.4 345.8,669.6 347.2,668.8 348.6,668.0 350.0,667.1 351.4,666.1 352.9,664.8 354.3,663.4 355.7,661.9 357.1,660.3 358.6,658.6 360.0,657.0 361.5,655.2 363.0,653.4 364.4,651.5 365.9,649.5 367.4,647.6 368.8,645.8 370.3,643.9 371.8,642.1 373.2,640.2 374.6,638.4 376.1,636.5 377.6,634.7 379.0,632.9 380.4,631.1 381.9,629.3 383.4,627.5 384.8,625.8 386.2,624.1 387.7,622.4 389.1,620.6 390.6,618.9 392.1,617.2 393.5,615.6 394.9,613.9 396.4,612.3 397.9,610.7 399.3,609.2 400.8,607.7 402.2,606.2 403.6,604.8 405.1,603.4 406.6,602.0 408.0,600.6 409.4,599.3 410.9,598.0 412.4,596.7 413.8,595.4 415.2,594.3 416.7,593.1 418.2,592.0 419.6,591.0 421.0,590.0 422.4,589.0 423.7,587.9 425.1,586.8 426.5,585.8 427.9,584.9 429.3,584.0 430.7,583.3 432.0,582.8 433.4,582.4 434.8,582.3 436.1,582.3 437.4,582.4 438.6,582.6 439.9,582.8 441.2,583.1 442.5,583.4 443.8,584.5 445.0,586.8 446.3,589.7 447.6,592.8 448.8,595.6 450.1,597.5 451.5,598.9 452.8,600.3 454.1,601.6 455.5,602.7 456.9,603.7 458.2,604.4 459.5,604.9 460.9,605.1 462.3,604.8 463.6,604.0 465.0,602.7 466.4,601.2 467.7,599.6 469.1,598.0 470.4,596.6 471.8,595.4 473.2,594.5 474.5,593.7 475.9,592.9 477.2,592.2 478.6,591.4 480.0,590.6 481.3,589.8 482.7,588.8 484.1,587.6 485.5,586.2 486.9,584.7 488.3,583.0 489.7,581.2 491.1,579.4 492.5,577.5 493.9,575.7 495.3,573.9 496.7,572.2 498.1,570.7 499.5,569.3 500.9,567.7 502.3,567.1 503.7,566.1 505.2,565.6 506.6,564.5 508.1,563.6 509.5,563.2 511.0,563.1 512.4,562.0 513.9,561.6 515.3,561.4 516.8,560.6 518.2,560.6 519.7,560.1 521.1,559.1 522.6,559.1 524.0,558.2 525.5,557.6 527.0,557.5 528.5,557.2 529.9,557.2 531.4,556.0 532.9,556.2 534.4,555.6 535.9,554.9 537.4,555.4 538.9,554.8 540.4,553.9 541.8,554.3 543.3,553.2 544.8,552.9 546.3,552.8 547.8,553.1 549.3,551.9 550.8,552.5 552.2,551.9 553.7,551.0 555.2,551.2 556.7,550.8 558.2,550.5 559.7,550.4 561.1,550.0 562.6,550.0 564.1,548.8 565.6,549.2 567.1,548.4 568.6,548.5 570.0,548.3 571.5,548.1 573.0,547.0 574.5,546.9 576.0,547.1 577.4,546.8 578.9,545.9 580.4,546.2 581.9,545.4 583.4,545.1 584.9,545.2 586.3,544.7 587.8,544.4 589.3,544.1 590.8,543.9 592.3,543.4 593.7,543.1 595.2,543.5 596.7,543.1 598.2,543.0 599.7,542.9 601.2,542.1 602.6,541.9 604.1,541.7 605.6,541.5 607.1,541.8 608.6,541.2 610.0,541.0 611.5,541.1 613.0,540.5 614.5,540.2 616.0,540.6 617.5,540.6 618.9,540.0 620.4,540.2 621.9,539.4 623.3,539.7 624.7,539.8 626.1,539.3 627.5,539.4 628.9,539.5 630.3,539.4 631.6,538.9 633.0,539.4 634.4,538.7 635.8,539.5 637.2,538.7 638.6,538.6 640.0,538.2 641.5,539.7 643.0,538.2 644.5,538.7 646.0,539.4 647.5,539.2 649.0,537.3 650.5,538.2 652.0,538.2 653.5,538.3 655.0,537.5 656.5,537.4 658.0,536.6 659.5,536.6 661.0,537.5 662.5,536.5 664.0,536.7 665.5,536.8 667.0,536.2 668.5,536.1 670.0,537.8 671.5,536.7 673.0,536.2 674.5,537.2 676.0,535.7 677.5,536.2 679.0,537.6 680.5,537.4 682.0,536.9 683.5,535.8 684.6,537.1 685.7,538.1 686.8,539.3 688.3,538.9 689.8,539.1 691.3,540.2 692.8,539.1 694.3,539.2 695.8,540.7 697.3,539.5 698.8,539.5 700.3,539.0 701.8,540.3 703.3,540.1 704.8,539.8 706.3,539.9 707.8,538.8 709.3,539.0 710.8,539.6 712.3,540.3 713.8,540.0 715.2,539.5 716.7,539.2 718.2,538.1 719.7,539.8 721.2,538.0 722.7,538.0 724.2,539.0 725.7,539.1 727.2,539.0 728.7,538.2 730.2,537.5 731.7,537.0 733.2,538.5 734.7,538.6 736.2,536.9 737.7,538.0 739.2,536.8 740.7,536.4 742.2,536.6 743.5,534.6 744.8,533.3 746.2,530.3 747.5,529.2 748.8,527.9 750.2,528.9 751.7,529.6 753.1,529.5 754.6,530.6 756.0,533.1 757.5,533.4 758.8,533.7 760.0,535.0 761.3,538.3 762.6,538.8 763.8,538.7 765.1,539.9 766.5,539.9 768.0,539.7 769.4,540.7 770.8,540.6 772.3,538.9 773.7,538.8 775.1,539.2 776.6,539.9 778.0,539.3 779.4,539.3 780.8,538.8 782.3,537.8 783.7,538.8 785.1,537.0 786.6,538.1 788.0,536.8 789.4,537.1 790.9,537.8 792.3,536.7 793.7,535.3 795.0,535.5 796.4,535.2 797.8,533.3 799.1,533.0 800.5,531.9 801.8,532.5 803.2,532.1 804.7,532.9 806.1,533.9 807.5,536.4 809.0,537.3 810.5,540.2 811.9,540.8 813.2,539.2 814.5,537.5 815.8,536.4 817.1,533.7 818.4,534.0 819.8,533.0 821.3,533.9 822.7,533.1 824.2,533.7 825.6,534.4 827.1,532.8 828.5,534.3 830.0,533.9 831.4,533.7 832.9,533.7 834.3,533.3 835.8,533.8 837.2,534.7 838.7,533.8 840.1,535.0 841.6,535.8 843.0,536.0 844.5,535.9 845.9,535.9 847.4,534.8 848.8,536.6 850.3,535.2 851.7,536.7 853.2,536.9 854.6,536.5 856.1,536.5 857.5,536.0 859.0,536.8 860.5,536.5 862.0,536.3 863.5,536.4 865.0,537.9 866.5,538.3 868.0,536.8 869.5,536.7 871.0,537.4 872.5,537.3 874.0,537.7 875.5,538.7 877.0,538.7 878.5,539.1 880.0,539.5 881.5,539.9 882.9,540.5 884.2,541.6 885.5,543.2 886.9,545.3 888.4,551.7 889.8,563.0 891.3,575.8 892.4,586.1 893.4,597.7 894.5,608.4 895.9,621.1 897.2,633.4 898.6,644.2 900.0,651.9 901.2,656.9 902.4,661.0 903.6,662.7 904.8,661.6 906.1,659.0 907.3,655.4 908.5,649.1 909.7,639.8 910.9,630.8 912.1,622.6 913.3,614.7 914.5,609.0 915.7,605.2 916.9,602.2 918.1,601.0 919.6,602.4 921.0,605.9 922.5,610.5 923.7,617.1 924.9,626.5 926.1,635.1 927.6,642.8 929.0,649.8 930.5,656.9 931.9,665.2 933.4,673.7 934.8,680.1 936.3,684.1 937.7,687.2 939.2,690.2 940.6,693.5 942.1,696.7 943.5,698.9 945.0,700.3 946.4,701.4 947.9,701.8 949.3,701.0 950.8,699.0 952.2,696.0 953.4,689.9 954.6,679.8 955.8,669.9 957.2,659.5 958.7,649.6 960.2,640.3 961.6,632.2 963.0,625.7 964.5,620.6 965.7,617.2 967.0,614.2 968.2,611.9 969.7,609.6 971.1,607.7 972.5,606.0 974.0,604.7 975.4,603.7 976.9,602.8 978.3,602.1 979.8,601.3 981.2,600.3 982.7,599.0 984.1,597.5 985.5,596.0 987.0,594.5 988.3,593.1 989.6,591.6 990.9,590.2 992.2,589.1 993.5,588.7 994.8,589.1 996.0,590.3 997.3,592.2 998.6,594.5 1000.0,600.8 1001.5,609.0 1002.7,614.0 1003.9,618.6 1005.1,623.5 1006.3,628.7 1007.6,634.3 1008.8,640.9 1010.2,652.7 1011.7,664.1 1012.8,669.9 1013.8,672.8 1015.0,671.3 1016.3,668.5 1017.5,667.0 1019.0,667.5 1020.4,668.4 1021.8,669.4 1023.3,669.9 1024.7,668.8 1026.2,666.4 1027.6,664.1 1029.0,661.8 1030.5,660.5 1031.7,662.9 1033.0,668.1 1034.2,672.8 1035.4,676.5 1036.6,680.0 1037.8,681.5 1039.0,679.9 1040.2,676.3 1041.4,672.8 1042.6,669.3 1043.8,665.7 1045.0,664.1 1046.2,664.1 1047.5,664.1 1048.7,664.1 1050.2,667.4 1051.6,672.8 1052.8,677.0 1054.0,681.1 1055.2,683.0 1056.6,680.9 1058.1,676.5 1059.5,672.8 1061.0,670.2 1062.4,668.0 1063.9,667.0 1065.3,667.4 1066.8,668.4 1068.2,669.9 1069.7,676.0 1071.1,684.4 1072.6,690.6 1074.0,696.4 1075.5,701.8 1076.9,706.8 1078.4,711.6 1079.8,716.3 1081.3,721.4 1082.7,726.4 1084.2,730.8 1085.5,734.4 1086.7,737.6 1088.0,739.0 1089.5,736.2 1091.0,729.3 1092.5,720.0 1093.8,705.7 1095.2,687.7 1096.4,671.7 1097.6,658.9 1098.9,650.8 1100.2,644.6 1101.5,641.4 1102.8,640.1 1104.2,639.3 1105.5,639.0 1106.8,639.7 1108.2,641.6 1109.5,644.6 1110.7,652.2 1111.9,663.7 1112.7,671.1 1113.5,679.7 1114.3,692.1 1115.1,703.6 1116.2,712.7 1117.2,719.8 1118.3,726.0 1119.4,732.5 1120.4,738.5 1121.5,741.9 1122.8,743.3 1124.1,744.1 1125.3,744.6 1126.6,745.4 1127.9,746.7 1129.0,749.1 1130.0,753.3 1131.1,759.5 1132.5,778.9 1134.0,802.1 1135.5,811.8 1136.9,818.0 1138.3,822.3 1139.8,825.7 1141.2,829.6 1142.7,835.0 1144.1,841.2 1145.5,847.6 1147.0,855.7 1148.5,870.2 1149.9,875.6 1151.4,879.2 1152.8,883.3 1154.2,891.1 1155.7,896.3 1157.2,896.3 1158.6,896.3 1160.1,896.3 1161.2,899.0 1162.2,905.0 1163.3,918.5 1164.4,934.0 1165.2,941.3 1166.1,947.4 1167.4,958.5 1168.8,964.8 1170.1,957.8 1171.4,947.4 1172.5,943.0 1173.5,939.4 1174.6,934.0 1175.7,921.1 1176.7,905.0 1177.8,890.8 1178.9,878.9 1180.0,870.8 1181.1,864.4 1182.5,858.1 1184.0,851.4 1185.1,842.5 1186.2,832.5 1187.7,821.0 1189.1,810.8 1190.5,802.6 1192.0,794.8 1193.5,785.0 1194.9,777.4 1196.3,773.9 1197.8,772.3 1199.1,773.3 1200.3,775.6 1201.6,777.9 1202.9,778.9 1204.1,777.3 1205.3,773.4 1206.5,768.7 1207.9,760.7 1209.2,750.6 1210.6,743.2 1212.1,739.3 1213.5,736.5 1215.0,734.2 1216.4,731.8 1217.9,728.7 1219.2,724.4 1220.6,719.2 1222.0,714.2 1223.3,710.5 1224.7,707.8 1226.0,705.3 1227.4,703.1 1228.8,701.3 1230.1,700.1 1231.5,699.7 1232.7,703.8 1233.9,712.3 1235.1,719.6 1236.2,724.1 1237.4,728.1 1238.5,731.5 1239.7,734.1 1241.0,736.7 1242.4,739.0 1243.8,740.7 1245.1,741.3 1246.4,740.5 1247.6,738.4 1248.9,736.1 1250.1,734.0 1251.4,733.2 1252.7,733.7 1254.0,734.9 1255.2,736.8 1256.5,739.0 1257.8,741.3 1259.2,745.2 1260.5,750.7 1261.8,755.6 1263.2,757.7 1264.3,756.6 1265.5,754.1 1266.7,751.5 1267.8,750.4 1269.3,750.9 1270.8,752.2 1272.3,754.0 1273.7,756.8 1275.0,761.1 1276.3,766.0 1277.7,770.4 1279.1,774.1 1280.5,777.7 1281.8,781.3 1283.2,784.9 1284.7,789.0 1286.1,793.2 1287.5,797.4 1289.0,801.3 1290.2,804.3 1291.4,807.2 1292.6,809.9 1293.8,812.4 1295.0,814.6 1296.2,816.6 1297.4,818.5 1298.6,820.4 1299.8,822.2 1301.0,823.8 1302.2,825.8 1303.4,828.4 1304.5,833.1 1305.5,839.6 1306.6,844.4 1307.9,847.6 1309.2,850.4 1310.4,852.7 1311.7,854.4 1313.0,855.5 1314.3,856.2 1315.7,856.8 1317.0,857.2 1318.3,857.6 1319.7,858.0 1321.0,858.7 1322.3,859.8 1323.5,861.5 1324.8,863.2 1326.0,864.6 1327.3,865.1 1328.6,865.0 1330.0,864.7 1331.3,864.3 1332.6,863.9 1334.0,863.6 1335.3,863.5 1336.7,863.6 1338.2,863.7 1339.6,864.1 1341.1,864.5 1342.5,865.1 1343.8,870.5 1345.2,880.1 1346.5,885.8 1347.8,886.8 1349.2,887.6 1350.5,888.2 1351.8,888.7 1353.2,888.9 1354.5,889.0 1355.9,888.9 1357.2,888.6 1358.6,888.1 1360.0,887.4" fill="none" stroke="#00b0f0" stroke-width="3.4" stroke-linejoin="round" stroke-linecap="butt"/>
<polyline points="68.7,426.8 70.2,426.8 71.7,426.8 73.2,426.7 74.7,426.5 76.2,427.0 77.7,426.6 79.2,426.7 80.7,426.8 82.2,427.2 83.7,426.6 85.1,427.0 86.6,426.6 88.1,427.2 89.6,426.7 91.1,426.8 92.6,427.2 94.1,427.0 95.6,426.5 97.1,426.5 98.6,427.4 100.1,426.4 101.6,426.7 103.1,427.4 104.6,426.4 106.1,426.6 107.6,426.7 109.1,426.5 110.6,426.9 112.1,427.1 113.6,426.8 115.0,426.6 116.5,427.3 118.0,427.3 119.5,427.1 121.0,426.7 122.5,427.1 124.0,427.2 125.5,427.1 127.0,427.5 128.5,427.1 130.0,427.2 131.5,426.8 133.0,427.3 134.5,427.6 136.0,427.5 137.5,427.1 139.0,427.9 140.5,427.6 142.0,427.4 143.4,427.4 144.9,427.8 146.4,427.2 147.9,427.7 149.4,427.8 150.9,427.7 152.4,428.1 153.9,427.7 155.4,427.7 156.9,427.6 158.4,428.3 159.9,427.7 161.4,428.1 162.9,427.9 164.4,428.5 165.9,428.5 167.4,427.7 168.9,428.7 170.4,428.4 171.9,427.9 173.4,428.4 174.8,428.0 176.3,428.5 177.8,428.2 179.3,428.5 180.8,428.5 182.3,428.8 183.8,429.1 185.3,429.3 186.8,428.8 188.3,429.1 189.7,428.7 191.0,429.6 192.4,430.1 193.8,430.8 195.1,431.6 196.5,432.5 197.8,433.4 199.2,434.4 200.7,435.6 202.1,437.1 203.6,438.8 205.0,440.7 206.5,442.8 207.9,445.0 209.4,447.2 210.8,449.5 212.3,451.8 213.8,454.1 215.2,456.6 216.7,459.2 218.1,461.9 219.6,464.7 221.0,467.5 222.4,470.4 223.9,473.3 225.3,476.1 226.8,479.0 228.2,481.7 229.7,484.4 231.1,487.0 232.6,489.7 234.0,492.3 235.5,494.9 236.9,497.5 238.4,500.1 239.8,502.6 241.3,505.2 242.8,507.7 244.2,510.1 245.7,512.5 247.1,514.9 248.5,517.2 250.0,519.6 251.4,521.9 252.9,524.2 254.3,526.4 255.8,528.7 257.2,530.9 258.7,533.0 260.1,535.1 261.6,537.1 263.1,539.1 264.5,541.0 265.9,542.9 267.4,544.7 268.9,546.5 270.3,548.3 271.8,550.0 273.2,551.7 274.6,553.4 276.1,555.0 277.5,556.5 279.0,558.0 280.4,559.3 281.9,560.6 283.3,561.8 284.8,563.1 286.2,564.4 287.7,565.6 289.1,566.8 290.6,567.9 292.1,569.0 293.5,570.0 294.9,570.8 296.4,571.5 297.9,572.1 299.3,572.5 300.8,572.8 302.2,573.1 303.6,573.4 305.1,573.6 306.6,573.9 308.0,574.1 309.4,574.2 310.9,574.4 312.4,574.5 313.8,574.6 315.2,574.7 316.7,574.7 318.1,574.7 319.6,574.6 321.0,574.4 322.5,574.1 323.9,573.8 325.4,573.5 326.8,573.1 328.3,572.7 329.7,572.3 331.2,571.8 332.6,571.3 334.1,570.8 335.5,570.3 337.0,569.8 338.4,569.3 339.8,568.8 341.3,568.2 342.8,567.6 344.2,567.0 345.6,566.2 347.1,565.5 348.6,564.7 350.0,563.8 351.4,562.8 352.9,561.8 354.4,560.6 355.8,559.3 357.2,558.0 358.7,556.5 360.1,555.1 361.6,553.6 363.0,552.0 364.5,550.5 365.9,549.0 367.4,547.5 368.8,546.0 370.3,544.4 371.8,542.9 373.2,541.2 374.6,539.6 376.1,537.9 377.6,536.2 379.0,534.6 380.4,532.9 381.9,531.2 383.4,529.5 384.8,527.9 386.2,526.3 387.7,524.6 389.1,522.9 390.6,521.2 392.1,519.5 393.5,517.8 394.9,516.1 396.4,514.5 397.9,512.9 399.3,511.3 400.8,509.8 402.2,508.3 403.6,506.9 405.1,505.4 406.6,504.0 408.0,502.6 409.4,501.3 410.9,499.9 412.4,498.7 413.8,497.4 415.2,496.2 416.7,495.1 418.2,494.1 419.6,493.1 421.1,492.2 422.5,491.2 424.0,490.2 425.4,489.2 426.9,488.3 428.3,487.4 429.8,486.6 431.2,485.8 432.6,485.2 434.1,484.8 435.6,484.5 437.0,484.4 438.3,484.5 439.6,484.8 440.9,485.3 442.2,485.9 443.5,486.6 444.8,487.9 446.1,490.1 447.5,492.7 448.8,495.3 450.1,497.5 451.5,499.6 452.9,501.9 454.3,504.2 455.7,506.5 457.1,508.7 458.6,510.7 460.0,512.4 461.4,513.7 462.8,514.6 464.2,514.9 465.5,514.3 466.7,512.7 468.0,510.6 469.3,508.1 470.5,505.8 471.8,504.0 473.2,502.4 474.6,501.0 476.0,499.6 477.4,498.4 478.8,497.2 480.2,496.0 481.6,494.9 483.0,493.8 484.4,492.6 485.8,491.4 487.2,490.1 488.6,488.7 490.0,487.2 491.4,485.5 492.8,483.4 494.3,480.8 495.8,478.0 497.2,475.3 498.7,473.0 500.1,471.3 501.5,470.8 502.9,469.0 504.2,468.8 505.6,467.9 507.0,466.8 508.4,466.6 509.8,465.6 511.2,465.6 512.5,464.3 513.9,463.9 515.3,464.0 516.8,463.3 518.2,462.6 519.7,462.6 521.1,462.0 522.6,461.9 524.0,461.7 525.5,461.5 526.9,460.5 528.4,460.7 529.8,460.7 531.3,460.0 532.7,460.0 534.2,459.1 535.6,459.5 537.1,459.0 538.5,459.0 540.0,458.7 541.4,458.4 542.9,457.4 544.3,457.7 545.8,456.9 547.3,456.7 548.8,456.4 550.2,456.3 551.7,455.9 553.2,455.8 554.7,454.7 556.2,454.5 557.7,454.2 559.1,454.3 560.6,453.7 562.1,453.3 563.6,453.1 565.1,452.7 566.5,452.0 568.0,451.5 569.5,451.5 571.0,451.5 572.5,450.9 574.0,450.1 575.4,450.1 576.9,449.8 578.4,449.7 579.9,449.4 581.4,449.4 582.8,448.6 584.3,448.3 585.8,448.2 587.3,448.2 588.8,447.7 590.3,447.2 591.7,447.2 593.2,446.6 594.7,446.8 596.2,445.9 597.7,445.5 599.1,445.9 600.6,445.2 602.1,445.4 603.6,445.0 605.1,444.7 606.6,444.2 608.0,444.7 609.5,443.9 611.0,444.6 612.5,444.5 613.9,443.8 615.4,443.6 616.8,444.2 618.2,443.8 619.7,443.4 621.1,443.6 622.6,443.3 624.0,443.4 625.5,443.6 627.0,443.7 628.4,443.6 629.9,443.0 631.3,443.2 632.8,443.2 634.2,443.6 635.6,442.8 637.1,443.1 638.5,443.5 640.0,442.9 641.5,442.7 643.0,443.2 644.5,442.8 646.0,443.9 647.5,442.4 649.0,442.6 650.5,442.4 652.0,443.5 653.5,442.7 655.0,443.8 656.5,443.8 658.0,443.9 659.5,442.7 661.0,442.2 662.5,442.9 664.0,443.9 665.5,443.6 667.0,442.3 668.5,443.5 670.0,443.9 671.5,443.9 673.0,443.5 674.5,443.8 676.0,443.7 677.5,442.8 679.0,442.4 680.5,443.5 682.0,442.4 683.5,442.9 684.6,444.6 685.7,444.8 686.8,445.3 688.3,446.1 689.8,444.9 691.3,446.2 692.8,446.0 694.3,445.0 695.8,444.9 697.3,444.6 698.8,446.0 700.3,444.6 701.8,444.3 703.3,445.8 704.8,445.2 706.3,445.3 707.8,445.4 709.3,444.1 710.8,444.1 712.3,444.8 713.8,443.9 715.2,444.6 716.7,445.0 718.2,444.7 719.7,444.6 721.2,443.4 722.7,443.7 724.2,444.7 725.7,443.2 727.2,443.8 728.7,442.8 730.2,444.3 731.7,442.7 733.2,443.0 734.7,443.1 736.2,443.2 737.7,443.4 739.2,442.9 740.7,441.9 742.2,441.2 743.5,441.5 744.8,440.0 746.2,436.1 747.5,435.7 748.8,433.8 750.2,434.5 751.7,435.1 753.1,436.1 754.6,437.7 756.0,438.1 757.5,438.5 758.8,440.2 760.1,441.2 761.4,442.5 762.7,443.5 764.0,444.2 765.5,443.8 767.0,443.7 768.5,443.5 770.0,444.1 771.4,443.8 772.9,444.7 774.4,444.7 775.9,443.7 777.4,444.2 778.9,444.6 780.4,443.6 781.9,443.9 783.4,443.6 784.9,443.9 786.3,444.4 787.8,442.8 789.3,444.2 790.8,443.5 792.3,443.6 793.8,442.9 795.2,442.5 796.6,440.5 798.1,440.2 799.5,438.6 801.0,438.7 802.5,439.4 803.9,439.6 805.4,440.7 806.8,443.3 808.2,444.3 809.7,444.5 811.1,442.9 812.6,441.7 814.0,439.8 815.5,440.8 817.0,440.6 818.5,440.7 820.0,440.4 821.5,440.1 823.0,441.0 824.5,440.5 826.0,441.1 827.5,440.4 829.0,440.0 830.5,440.8 832.0,441.0 833.5,441.6 835.0,441.6 836.5,440.2 838.0,441.5 839.5,440.6 841.0,441.5 842.5,441.0 844.0,440.9 845.5,441.3 847.0,441.5 848.5,441.8 850.0,441.8 851.5,442.0 853.0,441.5 854.5,442.1 856.0,441.6 857.5,442.2 859.0,442.0 860.4,442.3 861.9,441.4 863.3,442.4 864.8,442.1 866.2,442.6 867.7,442.2 869.1,443.4 870.6,444.1 872.0,443.4 873.5,443.2 874.9,444.4 876.4,443.9 877.8,445.6 879.3,445.3 880.6,445.7 881.9,446.3 883.2,447.1 884.5,448.2 885.8,449.6 887.3,453.0 888.7,459.2 890.2,467.0 891.6,479.4 893.1,496.1 894.5,510.5 895.9,520.1 897.2,528.3 898.6,536.3 900.0,545.0 901.2,555.9 902.4,567.3 903.6,572.6 905.1,571.1 906.5,567.3 908.0,562.4 909.2,555.9 910.4,546.7 911.6,537.8 912.8,529.8 914.0,522.1 915.2,516.0 916.7,510.0 918.1,505.1 919.6,503.0 921.0,503.9 922.5,506.0 923.9,508.8 925.4,512.8 926.8,518.3 928.3,524.7 929.7,532.3 931.2,541.1 932.6,549.4 933.9,556.1 935.2,562.6 936.4,568.6 937.7,574.0 939.2,578.8 940.6,583.0 942.1,588.5 943.5,597.4 945.0,602.7 946.4,606.7 947.9,609.0 949.1,610.1 950.3,610.9 951.5,611.2 952.7,610.0 953.9,607.1 955.1,603.2 956.2,597.7 957.3,588.7 958.0,578.4 959.2,565.5 960.4,554.9 961.6,545.0 963.0,533.0 964.5,523.3 966.0,516.7 967.4,511.5 968.9,507.3 970.2,504.0 971.5,501.0 972.7,498.6 974.0,497.2 975.5,496.3 976.9,495.6 978.3,495.2 979.8,495.0 981.2,495.1 982.7,495.4 984.1,495.6 985.6,495.7 987.0,494.0 988.5,490.9 989.9,489.2 991.4,489.3 992.8,489.5 994.3,489.9 995.7,492.0 997.2,496.3 998.6,501.5 1000.1,508.2 1001.5,516.6 1003.0,524.7 1004.4,531.4 1005.9,537.8 1007.3,545.0 1008.8,554.8 1010.2,565.7 1011.7,574.0 1013.2,579.3 1014.6,582.7 1015.9,584.5 1017.2,586.1 1018.5,587.4 1019.8,588.2 1021.1,588.5 1022.4,588.0 1023.7,586.6 1024.9,584.8 1026.2,582.7 1027.4,579.4 1028.6,575.3 1029.8,573.3 1031.0,575.3 1032.2,579.8 1033.4,584.2 1034.9,589.5 1036.3,594.8 1037.8,597.2 1039.2,594.3 1040.7,588.1 1042.1,582.7 1043.6,578.6 1045.0,574.9 1046.5,573.3 1047.9,574.0 1049.4,575.4 1050.8,576.9 1052.3,578.4 1053.7,579.9 1055.2,580.6 1056.7,580.2 1058.1,579.3 1059.6,578.0 1061.0,576.8 1062.5,575.9 1063.9,575.5 1065.3,575.9 1066.8,576.9 1068.2,578.4 1069.7,582.1 1071.1,588.5 1072.6,598.9 1074.0,606.4 1075.5,612.9 1076.9,619.2 1078.4,625.8 1079.8,632.3 1081.3,638.0 1082.7,643.1 1084.2,647.7 1085.6,651.1 1087.0,653.5 1088.5,654.7 1089.7,653.9 1091.0,651.6 1092.2,648.2 1093.7,634.9 1095.1,616.3 1096.5,602.8 1098.0,587.3 1099.5,560.0 1100.5,551.5 1101.6,545.6 1102.6,541.4 1103.8,537.5 1105.0,534.4 1106.2,533.2 1107.4,534.9 1108.6,539.3 1109.8,545.0 1111.2,557.2 1112.7,572.8 1113.8,582.8 1114.8,592.7 1115.9,603.1 1117.1,616.6 1118.3,628.6 1119.5,638.1 1120.7,643.0 1121.9,643.0 1123.1,643.0 1124.3,643.0 1125.5,643.0 1126.6,643.9 1127.6,646.1 1128.7,649.4 1129.9,658.7 1131.1,671.7 1132.3,682.8 1133.5,695.6 1135.0,719.6 1136.1,727.5 1137.1,733.1 1138.2,738.7 1139.3,745.1 1140.3,751.5 1141.4,757.9 1142.8,766.3 1144.1,774.5 1145.5,783.9 1147.0,790.5 1148.3,792.4 1149.5,793.5 1150.8,794.5 1152.1,796.3 1153.3,801.5 1154.5,809.1 1155.7,813.7 1157.2,814.9 1158.6,815.5 1160.1,816.6 1161.5,819.4 1163.0,825.3 1164.4,844.1 1165.9,854.9 1167.3,862.8 1168.8,865.9 1170.0,865.0 1171.2,862.4 1172.4,858.6 1173.5,849.5 1174.6,836.9 1176.0,821.7 1177.5,807.9 1179.0,797.0 1180.4,789.0 1181.8,784.6 1183.3,781.4 1184.7,777.4 1186.2,770.6 1187.6,762.9 1188.8,757.2 1190.1,751.5 1191.2,746.9 1192.2,742.0 1193.3,735.5 1194.5,720.8 1195.7,703.6 1196.8,690.1 1197.8,677.7 1198.9,671.7 1200.2,670.8 1201.4,670.3 1202.7,670.0 1203.9,669.6 1205.2,668.8 1206.7,664.0 1208.2,656.1 1209.7,650.7 1211.0,649.2 1212.3,648.3 1213.5,647.6 1214.8,646.7 1216.1,645.3 1217.4,641.5 1218.8,635.3 1220.2,629.1 1221.5,625.3 1222.9,623.7 1224.2,622.6 1225.6,621.7 1227.0,620.8 1228.3,619.9 1229.5,618.9 1230.8,618.1 1232.0,617.4 1233.3,617.2 1234.5,620.8 1235.7,628.2 1236.9,634.4 1238.1,638.2 1239.2,641.7 1240.3,644.3 1241.5,645.3 1242.8,645.2 1244.2,645.1 1245.5,644.9 1246.9,644.6 1248.2,644.5 1249.6,644.4 1250.8,644.8 1251.9,645.7 1253.0,647.2 1254.2,648.9 1255.4,652.8 1256.6,658.6 1257.8,663.4 1259.3,667.6 1260.8,671.0 1262.3,672.5 1263.6,671.9 1264.9,670.6 1266.1,668.9 1267.4,667.6 1268.7,667.0 1270.0,667.6 1271.4,669.3 1272.8,671.6 1274.1,674.3 1275.4,678.6 1276.8,684.7 1278.2,691.1 1279.5,696.0 1280.9,699.3 1282.2,702.1 1283.6,704.5 1285.0,706.9 1286.4,709.2 1287.9,711.3 1289.3,713.4 1290.8,715.5 1292.2,717.8 1293.7,720.5 1295.1,723.6 1296.6,726.7 1298.0,729.7 1299.5,732.3 1300.8,734.1 1302.2,735.5 1303.6,737.1 1304.9,739.5 1306.1,744.8 1307.3,752.4 1308.5,757.7 1309.9,760.3 1311.2,762.1 1312.6,763.6 1314.0,764.9 1315.4,766.2 1316.9,767.2 1318.3,768.2 1319.8,769.2 1321.2,770.4 1322.7,772.1 1324.1,774.2 1325.6,776.3 1327.0,777.9 1328.5,778.5 1329.9,778.2 1331.4,777.5 1332.8,776.8 1334.3,776.1 1335.7,775.8 1337.2,775.8 1338.6,775.8 1340.1,775.8 1341.5,775.8 1343.0,775.8 1344.2,780.3 1345.4,788.8 1346.6,793.9 1348.1,794.8 1349.5,795.5 1351.0,796.0 1352.4,796.3 1353.9,796.6 1355.2,796.9 1356.4,797.1 1357.7,797.3 1358.9,797.5 1360.2,797.6" fill="none" stroke="#6f4a8e" stroke-width="3.4" stroke-linejoin="round" stroke-linecap="butt"/>
<polyline points="68.7,329.5 70.2,329.5 71.7,329.5 73.2,329.1 74.7,329.4 76.2,329.5 77.7,329.1 79.2,329.3 80.7,329.3 82.2,329.7 83.7,330.0 85.2,329.4 86.7,329.8 88.2,329.1 89.7,329.6 91.2,329.4 92.6,329.3 94.1,329.8 95.6,329.8 97.1,329.1 98.6,329.3 100.1,329.8 101.6,330.0 103.1,329.6 104.6,329.9 106.1,330.0 107.6,329.8 109.1,329.7 110.6,329.2 112.1,329.4 113.6,329.7 115.1,330.0 116.6,329.3 118.1,329.4 119.6,329.1 121.1,329.7 122.6,329.5 124.1,329.9 125.6,329.3 127.1,329.7 128.6,329.7 130.1,329.5 131.6,329.3 133.1,329.5 134.6,329.8 136.1,329.3 137.5,329.2 139.0,329.6 140.5,329.3 142.0,329.9 143.5,329.9 145.0,330.1 146.5,330.0 148.0,329.8 149.5,329.3 151.0,330.0 152.5,329.9 154.0,329.9 155.5,329.9 157.0,330.0 158.5,329.5 160.0,329.9 161.4,329.8 162.9,329.7 164.3,329.9 165.7,329.9 167.1,330.4 168.6,330.4 170.0,330.5 171.5,331.0 172.9,330.8 174.4,330.8 175.8,331.1 177.3,330.3 178.7,330.6 180.2,330.1 181.6,330.4 183.1,331.0 184.5,330.1 186.0,330.8 187.4,330.9 188.9,330.5 190.3,330.5 191.8,330.5 193.2,331.1 194.7,332.5 196.1,334.0 197.5,335.2 198.9,336.5 200.3,337.8 201.7,339.1 203.1,340.5 204.3,341.8 205.5,343.2 206.8,344.6 208.0,346.0 209.2,347.4 210.4,348.8 211.6,350.1 212.9,351.5 214.1,352.9 215.3,354.4 216.6,356.2 217.9,358.2 219.2,360.2 220.5,362.2 221.7,363.9 222.9,365.6 224.2,367.3 225.4,369.1 226.6,370.9 227.8,372.8 229.0,374.9 230.3,377.0 231.5,379.2 232.7,381.4 233.9,383.7 235.1,386.1 236.4,388.6 237.6,391.1 238.8,393.6 240.1,396.2 241.4,398.8 242.7,401.4 244.0,404.0 245.3,406.6 246.6,409.3 247.9,411.9 249.2,414.4 250.5,416.6 251.8,418.8 253.1,420.9 254.4,423.1 255.8,425.9 257.2,428.9 258.7,431.8 260.1,434.4 261.6,436.7 263.0,438.8 264.5,440.8 265.9,442.8 267.4,444.7 268.8,446.5 270.2,448.2 271.7,449.9 273.1,451.5 274.6,453.1 276.1,454.6 277.5,456.1 278.9,457.6 280.4,459.2 281.9,460.7 283.3,462.2 284.8,463.7 286.2,465.1 287.6,466.5 289.1,467.7 290.5,468.9 292.0,469.9 293.4,470.7 294.9,471.4 296.4,472.0 297.8,472.5 299.3,473.1 300.7,473.6 302.2,474.1 303.6,474.5 305.1,475.0 306.5,475.4 308.0,475.7 309.4,476.0 310.9,476.3 312.3,476.5 313.8,476.7 315.2,476.8 316.7,476.8 318.1,476.8 319.6,476.7 321.0,476.5 322.5,476.2 323.9,475.9 325.4,475.6 326.8,475.2 328.3,474.8 329.7,474.4 331.2,473.9 332.6,473.4 334.1,472.9 335.5,472.4 337.0,471.9 338.4,471.4 339.8,470.9 341.3,470.3 342.8,469.7 344.2,469.0 345.6,468.3 347.1,467.5 348.6,466.7 350.0,465.9 351.4,465.0 352.9,464.1 354.4,463.0 355.8,461.9 357.2,460.8 358.7,459.6 360.1,458.4 361.6,457.1 363.0,455.8 364.5,454.5 365.9,453.2 367.4,451.8 368.8,450.4 370.3,448.9 371.8,447.4 373.2,445.8 374.6,444.1 376.1,442.5 377.6,440.8 379.0,439.0 380.4,437.3 381.9,435.6 383.4,433.9 384.8,432.2 386.2,430.5 387.7,428.7 389.1,427.0 390.6,425.1 392.1,423.3 393.5,421.5 394.9,419.7 396.4,418.0 397.9,416.3 399.3,414.6 400.8,413.0 402.2,411.5 403.6,410.0 405.1,408.6 406.6,407.2 408.0,405.8 409.4,404.4 410.9,403.1 412.4,401.8 413.8,400.6 415.2,399.4 416.7,398.3 418.2,397.3 419.6,396.3 421.0,395.4 422.4,394.5 423.7,393.5 425.1,392.6 426.5,391.7 427.9,390.9 429.3,390.2 430.7,389.6 432.0,389.1 433.4,388.8 434.8,388.7 436.1,388.8 437.4,389.1 438.8,389.5 440.1,390.2 441.4,390.9 442.8,393.2 444.1,397.3 445.4,401.8 446.8,405.0 448.2,406.9 449.6,408.5 451.0,409.8 452.4,410.9 453.8,412.1 455.2,413.4 456.6,414.8 457.9,416.5 459.1,418.6 460.4,420.8 461.7,422.7 462.9,424.1 464.2,424.6 465.5,423.9 466.7,422.2 468.0,419.8 469.3,417.1 470.5,414.6 471.8,412.6 473.2,410.9 474.6,409.3 476.0,407.9 477.4,406.5 478.8,405.2 480.2,404.0 481.6,402.8 483.0,401.6 484.4,400.3 485.8,399.0 487.2,397.7 488.6,396.3 490.0,394.8 491.4,393.1 492.8,391.1 494.3,388.9 495.8,386.5 497.2,384.1 498.7,381.9 500.1,380.3 501.5,378.3 502.8,376.7 504.2,375.3 505.6,373.6 506.9,372.4 508.3,371.2 509.6,370.9 511.0,369.5 512.5,368.8 514.0,368.9 515.5,367.6 517.0,367.9 518.5,367.3 520.0,366.7 521.5,366.1 523.0,365.5 524.4,365.1 525.9,364.7 527.4,364.6 528.9,364.4 530.4,364.6 531.9,363.9 533.4,364.0 534.9,363.4 536.4,362.5 537.9,362.6 539.3,361.9 540.8,361.4 542.3,362.0 543.8,361.1 545.3,360.7 546.8,360.3 548.2,360.6 549.7,360.1 551.2,359.4 552.7,359.8 554.2,359.1 555.6,359.3 557.1,358.8 558.6,358.5 560.1,358.2 561.6,358.1 563.1,358.1 564.5,357.6 566.0,356.6 567.5,356.7 569.0,356.1 570.5,355.6 572.0,355.4 573.4,355.0 574.9,355.4 576.4,354.8 577.9,354.5 579.4,353.9 580.9,353.1 582.4,352.8 583.9,352.5 585.3,351.9 586.8,351.7 588.3,351.7 589.8,350.6 591.3,350.5 592.8,350.3 594.3,350.2 595.7,349.9 597.2,349.8 598.7,348.9 600.2,348.8 601.7,348.7 603.1,348.5 604.6,348.8 606.1,348.9 607.6,348.4 609.0,347.6 610.5,347.8 612.0,348.1 613.5,348.1 614.9,347.7 616.4,347.3 617.9,347.2 619.4,347.3 620.8,347.5 622.3,346.8 623.8,346.6 625.3,346.3 626.7,346.3 628.2,346.9 629.7,346.6 631.2,346.9 632.6,345.8 634.1,346.0 635.6,346.4 637.1,346.1 638.5,345.5 640.0,345.6 641.5,346.0 643.0,346.0 644.5,345.4 646.0,344.8 647.5,346.2 649.0,345.1 650.5,345.5 652.0,345.1 653.5,344.1 655.0,344.3 656.5,343.8 658.0,344.0 659.5,343.9 661.0,344.2 662.5,344.0 664.0,344.0 665.5,344.8 667.0,343.1 668.5,343.2 670.0,344.5 671.5,343.9 673.0,343.7 674.5,343.3 676.0,343.8 677.5,343.1 679.0,344.4 680.5,344.3 682.0,343.2 683.5,342.6 684.6,345.5 685.7,346.5 686.8,348.3 688.2,348.7 689.6,348.6 691.1,348.6 692.5,347.8 693.9,348.4 695.3,347.6 696.8,347.1 698.2,347.4 699.6,347.0 701.0,347.8 702.5,347.8 703.9,346.3 705.3,346.2 706.8,346.6 708.3,346.6 709.7,347.4 711.2,347.3 712.7,347.2 714.2,346.5 715.6,346.2 717.1,345.3 718.6,345.3 720.1,344.4 721.5,345.9 723.0,344.6 724.5,344.0 726.0,344.3 727.4,344.2 728.9,344.8 730.4,343.2 731.9,343.5 733.3,344.8 734.8,344.6 736.3,344.0 737.8,343.8 739.2,343.1 740.7,344.4 742.2,344.1 743.3,344.5 744.4,345.4 745.5,346.3 746.6,341.9 747.7,332.9 748.8,327.5 750.2,329.5 751.7,332.4 753.1,334.5 754.5,336.3 755.8,337.8 757.2,339.5 758.5,341.5 759.9,342.6 761.3,343.0 762.6,345.0 764.0,344.7 765.5,344.7 767.0,345.4 768.5,345.6 770.0,345.8 771.4,345.9 772.9,345.7 774.4,345.8 775.9,344.8 777.4,345.9 778.9,345.1 780.4,345.1 781.9,344.9 783.4,345.5 784.9,344.8 786.3,346.1 787.8,346.3 789.3,346.3 790.8,345.1 792.3,346.1 793.7,346.3 795.2,344.2 796.6,343.8 798.1,343.1 799.5,342.6 801.0,341.1 802.4,341.2 803.9,340.3 805.3,340.7 806.8,341.0 808.2,342.7 809.6,343.7 811.1,346.4 812.5,347.9 814.0,348.4 815.5,345.2 816.9,343.3 818.4,340.6 819.8,340.0 821.3,340.3 822.7,340.5 824.2,340.6 825.6,340.2 827.1,340.3 828.5,340.6 830.0,341.6 831.4,341.1 832.9,340.4 834.3,341.4 835.8,341.1 837.2,340.9 838.7,343.1 840.1,341.9 841.6,342.6 843.0,342.4 844.5,342.0 845.9,344.0 847.4,344.2 848.8,342.9 850.3,343.6 851.7,343.7 853.2,343.5 854.6,344.7 856.1,345.1 857.5,345.2 858.9,345.2 860.3,344.0 861.7,344.6 863.1,345.2 864.5,345.7 865.9,345.2 867.3,345.5 868.7,346.4 870.1,344.9 871.5,345.5 872.9,345.8 874.3,347.4 875.7,346.1 877.1,346.0 878.5,347.3 880.0,347.8 881.5,348.5 882.9,349.5 884.3,350.7 885.8,352.3 887.3,356.2 888.7,363.3 890.2,371.9 891.6,382.2 892.9,395.5 894.2,410.0 895.6,423.5 897.1,438.2 898.5,452.6 900.0,462.7 901.2,468.1 902.4,472.3 903.6,474.0 905.1,472.4 906.5,468.6 908.0,463.8 909.2,458.4 910.4,451.1 911.6,443.5 913.0,433.7 914.5,424.7 915.8,418.1 917.0,411.7 918.3,407.0 919.6,405.1 921.0,405.9 922.5,407.8 923.9,410.2 925.4,413.7 926.8,418.7 928.3,424.7 929.7,432.7 931.2,442.5 932.6,450.8 933.9,456.1 935.2,460.7 936.4,465.0 937.7,469.6 939.2,475.6 940.6,481.6 942.1,487.0 943.5,491.4 945.0,495.3 946.4,498.6 947.6,501.2 948.8,503.4 950.0,504.4 951.5,503.0 952.9,499.3 954.4,494.3 955.8,485.2 957.3,472.5 958.5,459.7 959.7,445.6 960.9,434.8 962.1,428.2 963.3,423.1 964.5,418.9 965.8,414.9 967.0,411.4 968.3,408.3 969.6,405.8 971.0,403.3 972.4,400.7 973.8,398.4 975.2,396.5 976.6,395.3 978.0,394.8 979.4,395.1 980.9,395.8 982.3,396.5 983.8,397.2 985.2,397.5 986.6,396.4 987.9,393.9 989.2,391.4 990.6,390.3 991.8,390.4 992.9,390.5 994.1,390.8 995.2,391.2 996.7,394.3 998.2,400.9 999.7,408.4 1000.9,415.3 1002.0,423.8 1003.2,432.2 1004.4,439.2 1005.8,445.1 1007.3,450.8 1008.8,458.4 1010.2,466.7 1011.7,476.1 1013.1,482.7 1014.5,484.4 1016.0,485.6 1017.3,487.1 1018.5,488.7 1019.8,490.1 1021.1,490.6 1022.4,490.1 1023.7,489.0 1024.9,487.3 1026.2,485.6 1027.4,483.0 1028.6,479.8 1029.8,478.3 1031.0,481.1 1032.2,487.2 1033.4,492.8 1034.9,498.4 1036.3,503.6 1037.8,505.9 1039.0,503.5 1040.2,498.2 1041.4,492.8 1042.8,486.1 1044.3,481.2 1045.5,479.7 1046.7,478.7 1047.9,478.3 1049.4,480.2 1050.8,483.7 1052.3,485.6 1053.7,485.6 1055.2,485.6 1056.6,485.6 1058.0,485.4 1059.5,484.8 1060.9,484.2 1062.4,483.5 1063.8,482.9 1065.3,482.7 1066.5,483.3 1067.8,484.9 1069.0,487.0 1070.2,491.4 1071.4,498.1 1072.6,504.4 1074.0,510.4 1075.5,516.0 1077.0,521.2 1078.4,526.2 1079.9,530.9 1081.3,535.3 1082.8,539.5 1084.2,543.6 1085.6,548.4 1087.1,553.1 1088.5,555.2 1089.7,554.6 1091.0,553.1 1092.2,550.8 1093.7,543.6 1095.1,530.5 1096.2,513.9 1097.2,494.3 1098.6,470.7 1099.9,454.4 1101.2,448.5 1102.4,443.7 1103.7,440.2 1104.9,438.0 1106.2,437.2 1107.7,439.7 1109.2,445.9 1110.7,454.4 1112.1,468.3 1113.5,487.0 1114.7,505.7 1115.9,525.4 1117.1,537.8 1118.6,543.7 1120.1,547.7 1121.6,550.5 1123.1,552.4 1124.6,553.8 1126.1,555.9 1127.3,559.4 1128.6,564.8 1129.8,571.5 1131.1,579.1 1132.3,587.8 1133.5,599.9 1135.0,627.0 1136.2,640.2 1137.4,649.4 1138.6,655.3 1139.8,659.8 1141.0,663.8 1142.2,668.5 1143.4,674.6 1144.6,681.5 1145.8,687.9 1147.0,692.4 1148.3,695.2 1149.6,697.1 1150.8,698.8 1152.1,700.7 1153.4,703.6 1154.5,708.8 1155.5,715.5 1156.6,719.6 1157.8,720.7 1159.0,721.2 1160.2,721.7 1161.4,722.8 1162.7,728.3 1164.1,738.5 1165.4,748.3 1166.5,756.2 1167.6,764.0 1168.7,767.5 1170.0,765.9 1171.2,761.7 1172.5,756.3 1173.6,748.6 1174.6,737.8 1175.7,727.5 1176.8,718.8 1177.8,710.6 1178.9,703.6 1180.2,696.6 1181.6,690.5 1182.9,684.5 1184.2,677.5 1185.6,670.5 1186.9,665.3 1188.0,662.6 1189.0,660.5 1190.1,658.9 1191.2,657.9 1192.2,657.1 1193.3,655.7 1194.4,649.4 1195.4,637.2 1196.5,623.8 1197.7,604.6 1198.9,590.0 1200.4,585.7 1201.9,583.2 1203.4,580.0 1204.6,575.1 1205.8,569.7 1207.3,563.4 1208.7,557.4 1210.2,553.7 1211.7,552.3 1213.1,551.6 1214.5,550.8 1216.0,549.4 1217.4,545.5 1218.9,539.3 1220.3,533.4 1221.5,528.9 1222.7,524.6 1223.9,521.8 1225.4,520.0 1226.8,518.4 1228.2,517.1 1229.7,516.1 1231.1,515.5 1232.6,515.3 1234.1,517.3 1235.5,521.9 1237.0,527.6 1238.1,533.2 1239.2,539.2 1240.4,545.4 1241.6,551.2 1242.8,553.7 1244.1,552.7 1245.5,550.1 1246.8,546.8 1248.1,543.6 1249.5,541.0 1250.8,540.0 1252.2,541.3 1253.7,544.4 1255.1,547.9 1256.6,552.7 1258.0,558.4 1259.5,562.4 1260.9,564.5 1262.4,566.2 1263.8,566.8 1265.1,565.7 1266.3,563.2 1267.6,560.6 1268.9,559.5 1270.2,560.1 1271.5,561.5 1272.7,563.3 1274.0,565.3 1275.4,567.7 1276.9,570.6 1278.3,574.0 1279.8,578.4 1281.2,583.6 1282.7,588.5 1284.1,592.6 1285.6,596.5 1287.0,600.0 1288.1,602.5 1289.3,604.8 1290.4,607.2 1291.8,610.8 1293.2,614.9 1294.5,618.7 1295.9,621.7 1297.3,623.8 1298.8,625.4 1300.2,626.8 1301.7,628.5 1303.1,630.8 1304.4,634.9 1305.8,640.7 1307.2,646.6 1308.5,650.7 1309.9,653.2 1311.2,655.2 1312.6,656.8 1314.0,658.0 1315.4,658.9 1316.9,659.6 1318.3,660.2 1319.8,660.8 1321.2,661.6 1322.7,662.8 1324.1,664.5 1325.6,666.1 1327.0,667.4 1328.5,667.9 1329.9,667.7 1331.2,667.2 1332.6,666.5 1334.0,665.6 1335.3,664.8 1336.7,664.1 1338.0,663.6 1339.4,663.4 1340.6,663.9 1341.8,665.2 1343.0,667.0 1344.2,671.2 1345.4,677.3 1346.6,681.5 1348.0,683.7 1349.3,685.4 1350.7,686.6 1352.1,687.0 1353.4,686.1 1354.8,684.2 1356.2,682.4 1357.5,681.5 1358.8,684.4 1360.2,690.6" fill="none" stroke="#00b050" stroke-width="3.4" stroke-linejoin="round" stroke-linecap="butt"/>
<polyline points="68.7,233.1 70.2,233.0 71.7,233.0 73.2,232.8 74.7,233.0 76.2,232.4 77.7,233.0 79.2,232.3 80.7,232.8 82.2,232.2 83.7,232.9 85.2,232.1 86.7,232.6 88.2,232.7 89.7,232.0 91.2,231.8 92.6,232.3 94.1,232.2 95.6,232.1 97.1,232.4 98.6,232.0 100.1,232.0 101.6,232.0 103.1,231.9 104.6,231.8 106.1,231.6 107.6,231.7 109.1,231.6 110.6,231.6 112.1,232.1 113.6,231.4 115.1,231.5 116.6,231.8 118.1,231.6 119.6,231.5 121.1,231.6 122.6,231.7 124.1,231.9 125.6,232.2 127.1,232.0 128.6,231.6 130.1,231.6 131.6,231.6 133.1,231.4 134.6,232.1 136.1,231.2 137.5,231.3 139.0,231.8 140.5,231.7 142.0,231.4 143.5,232.0 145.0,231.5 146.5,231.7 148.0,231.2 149.5,232.0 151.0,231.2 152.5,231.5 154.0,232.0 155.5,232.0 157.0,232.0 158.5,231.9 160.0,231.3 161.5,231.5 162.9,232.7 164.4,233.4 165.9,235.3 167.3,235.2 168.8,235.8 170.2,235.7 171.7,235.5 173.1,236.0 174.6,235.6 176.0,236.4 177.5,236.2 178.9,235.9 180.4,236.3 181.8,236.3 183.3,235.8 184.7,236.3 186.2,236.4 187.6,236.1 189.1,235.9 190.5,236.0 192.0,236.0 193.4,236.0 194.9,236.0 196.3,236.0 197.8,236.0 199.2,236.0 200.7,236.8 202.1,238.8 203.6,241.6 205.1,244.7 206.5,247.7 208.0,250.0 209.4,251.8 210.9,253.4 212.3,254.9 213.8,256.3 215.2,257.7 216.7,259.0 218.1,260.3 219.5,261.6 221.0,263.0 222.4,264.4 223.9,265.9 225.3,267.5 226.8,269.2 228.2,271.1 229.7,273.0 231.1,275.0 232.6,277.1 234.0,279.1 235.4,281.2 236.9,283.3 238.3,285.4 239.8,287.5 241.2,289.5 242.7,291.4 244.1,293.3 245.6,295.2 247.1,297.2 248.5,299.1 249.9,301.0 251.4,302.9 252.9,304.8 254.3,306.6 255.8,308.3 257.2,310.0 258.7,311.7 260.1,313.2 261.6,314.7 263.0,316.1 264.5,317.5 265.9,318.9 267.4,320.2 268.8,321.5 270.2,322.7 271.7,323.9 273.1,325.1 274.6,326.2 276.1,327.3 277.5,328.4 278.9,329.5 280.4,330.6 281.9,331.7 283.3,332.8 284.8,333.9 286.2,334.9 287.6,335.9 289.1,336.8 290.5,337.6 292.0,338.3 293.4,338.9 294.9,339.3 296.4,339.6 297.8,340.0 299.3,340.3 300.7,340.6 302.2,340.9 303.6,341.2 305.1,341.4 306.5,341.7 308.0,341.9 309.4,342.1 310.9,342.2 312.3,342.3 313.8,342.4 315.2,342.5 316.7,342.5 318.1,342.5 319.6,342.4 321.0,342.3 322.5,342.2 323.9,342.0 325.4,341.8 326.8,341.6 328.3,341.3 329.7,341.1 331.2,340.8 332.6,340.5 334.1,340.2 335.5,339.9 337.0,339.6 338.4,339.3 339.8,339.0 341.3,338.7 342.8,338.3 344.2,337.9 345.6,337.5 347.1,337.0 348.6,336.5 350.0,336.0 351.4,335.4 352.9,334.6 354.4,333.7 355.8,332.8 357.2,331.8 358.7,330.7 360.1,329.6 361.6,328.5 363.0,327.3 364.5,326.2 365.9,325.1 367.4,324.1 368.8,323.1 370.3,322.1 371.8,321.1 373.2,320.1 374.6,319.1 376.1,318.1 377.6,317.1 379.0,316.1 380.4,315.1 381.9,314.1 383.4,313.1 384.8,312.1 386.2,311.1 387.7,310.1 389.1,309.1 390.6,308.1 392.1,307.1 393.5,306.1 394.9,305.1 396.4,304.1 397.9,303.1 399.3,302.1 400.8,301.1 402.2,300.1 403.6,299.1 405.1,298.0 406.6,297.0 408.0,295.9 409.4,294.8 410.9,293.7 412.4,292.7 413.8,291.7 415.2,290.7 416.7,289.8 418.2,289.0 419.6,288.2 421.1,287.5 422.5,286.7 424.0,286.0 425.4,285.2 426.9,284.5 428.3,283.8 429.8,283.2 431.2,282.7 432.6,282.2 434.1,281.9 435.6,281.7 437.0,281.6 438.4,281.8 439.8,282.3 441.1,283.0 442.5,283.8 443.8,285.0 445.0,286.9 446.3,289.1 447.6,291.6 448.8,293.9 450.1,295.8 451.6,297.7 453.0,299.6 454.5,301.4 455.9,303.0 457.4,304.5 458.8,305.6 460.1,306.5 461.4,307.4 462.7,308.1 464.0,308.6 465.3,308.8 466.6,308.1 467.9,306.4 469.2,304.1 470.5,301.8 471.8,300.1 473.2,298.7 474.7,297.5 476.1,296.4 477.6,295.4 479.1,294.4 480.5,293.5 481.9,292.5 483.4,291.6 484.9,290.6 486.3,289.5 487.8,288.4 489.2,287.1 490.6,285.7 491.9,283.9 493.3,282.1 494.6,280.2 496.0,278.3 497.4,276.6 498.7,275.1 500.1,274.6 501.5,273.8 502.9,272.1 504.2,270.9 505.6,271.5 507.0,270.6 508.4,269.3 509.8,269.3 511.2,268.4 512.5,269.0 513.9,267.6 515.3,267.0 516.8,266.4 518.2,266.5 519.7,267.2 521.1,265.7 522.6,265.8 524.0,266.3 525.5,264.5 526.9,264.7 528.4,265.3 529.8,263.9 531.3,265.0 532.7,264.6 534.2,263.2 535.6,263.7 537.1,263.5 538.5,263.5 540.0,262.7 541.4,262.6 542.9,262.1 544.3,262.0 545.8,261.6 547.3,262.5 548.8,262.3 550.2,261.2 551.7,261.5 553.2,261.0 554.7,260.4 556.2,260.3 557.7,261.1 559.1,259.9 560.6,260.1 562.1,260.5 563.6,259.2 565.1,259.8 566.5,258.5 568.0,259.3 569.5,259.3 571.0,259.1 572.5,259.2 574.0,258.6 575.4,258.8 576.9,257.5 578.4,257.7 579.9,257.1 581.4,256.7 582.8,257.1 584.3,257.3 585.8,257.2 587.3,255.8 588.8,257.1 590.3,255.8 591.7,255.7 593.2,256.3 594.7,256.3 596.2,255.8 597.7,255.0 599.1,255.1 600.6,255.5 602.1,254.7 603.6,255.3 605.1,255.1 606.6,254.6 608.0,255.2 609.5,254.3 611.0,254.9 612.5,254.7 613.9,254.3 615.4,254.6 616.8,254.8 618.2,254.7 619.7,254.1 621.1,255.6 622.6,255.6 624.0,254.2 625.5,255.7 627.0,255.1 628.4,254.5 629.9,255.7 631.3,255.2 632.8,255.7 634.2,255.9 635.6,255.5 637.1,254.8 638.5,256.0 640.0,256.1 641.5,256.8 642.9,254.7 644.4,256.2 645.8,256.4 647.3,254.5 648.7,254.5 650.2,254.1 651.6,252.8 653.1,253.2 654.5,253.3 656.0,252.3 657.4,254.1 658.9,252.7 660.3,252.9 661.8,251.7 663.2,251.6 664.7,252.6 666.1,251.4 667.6,251.6 669.0,250.8 670.5,251.0 671.9,251.9 673.4,249.7 674.8,250.3 676.3,250.8 677.7,248.8 679.2,251.6 680.5,250.5 681.7,250.6 683.0,253.6 684.3,255.0 685.5,255.5 686.8,256.8 688.3,254.3 689.8,255.8 691.3,256.6 692.8,257.2 694.2,256.4 695.7,256.3 697.2,255.7 698.7,256.4 700.2,256.4 701.7,257.5 703.2,257.3 704.7,257.1 706.2,257.7 707.6,255.0 709.1,257.3 710.6,256.3 712.1,257.3 713.6,255.9 715.1,256.4 716.6,257.6 718.1,255.1 719.6,255.9 721.0,256.5 722.5,257.7 724.0,255.9 725.5,257.6 727.0,255.8 728.5,255.9 729.9,256.6 731.4,256.6 732.8,257.1 734.3,256.7 735.7,254.3 737.2,255.5 738.6,254.7 740.1,253.4 741.5,254.3 743.0,254.3 744.4,252.7 745.9,253.8 747.3,251.2 748.8,251.2 750.2,253.2 751.7,252.0 753.1,253.4 754.6,253.6 756.0,253.1 757.5,255.8 758.9,256.5 760.4,255.3 761.8,256.5 763.3,258.9 764.7,259.9 766.2,260.3 767.6,259.5 769.1,259.4 770.5,259.7 772.0,258.9 773.5,259.8 775.0,258.9 776.5,258.6 778.0,259.3 779.5,258.1 781.0,259.3 782.5,259.9 784.0,259.6 785.5,260.5 787.0,260.1 788.5,259.1 790.0,259.8 791.5,258.2 793.0,259.1 794.5,257.3 796.0,257.9 797.5,259.2 799.0,257.8 800.5,257.4 802.0,258.1 803.5,256.5 805.0,258.0 806.5,255.3 808.0,255.9 809.5,255.7 811.0,255.9 812.5,258.0 814.0,255.1 815.5,256.0 817.0,256.9 818.5,257.4 820.0,257.7 821.5,256.6 823.0,256.2 824.5,258.4 826.0,256.3 827.5,256.3 829.0,257.0 830.5,258.1 832.0,259.8 833.5,259.3 835.0,259.1 836.5,259.2 838.0,260.0 839.5,260.1 841.0,259.4 842.5,258.9 844.0,259.5 845.5,261.6 847.0,261.3 848.5,262.1 850.0,259.9 851.5,262.8 853.0,261.3 854.5,263.2 856.0,262.3 857.5,262.3 859.0,263.2 860.4,262.7 861.9,262.9 863.3,261.3 864.8,262.7 866.2,262.0 867.7,261.1 869.1,261.3 870.6,262.5 872.0,261.8 873.5,263.5 874.9,261.5 876.4,261.3 877.8,264.6 879.3,263.1 880.6,263.5 881.9,264.4 883.2,265.8 884.5,267.6 885.8,269.7 887.3,274.4 888.7,282.3 890.2,291.4 891.6,302.4 893.1,315.5 894.5,328.4 895.9,339.4 897.2,350.0 898.6,360.6 900.0,371.9 901.2,385.0 902.4,398.5 903.6,404.8 904.8,403.1 905.9,398.8 907.1,393.0 908.2,386.7 909.7,375.6 911.2,361.4 912.7,348.6 914.2,337.7 915.7,327.8 917.2,321.4 918.4,318.7 919.5,316.4 920.6,314.8 921.8,314.2 923.3,316.0 924.8,320.2 926.3,325.0 927.8,330.2 929.3,336.5 930.8,343.2 932.0,349.4 933.2,355.9 934.4,361.3 935.8,365.5 937.1,368.9 938.5,372.1 939.9,375.8 941.2,380.5 942.4,386.0 943.7,391.7 944.9,396.4 946.2,399.4 947.5,401.1 948.7,402.5 950.0,403.5 951.2,403.9 952.5,402.5 953.7,399.0 955.0,394.1 956.2,388.5 957.7,378.1 959.2,364.1 960.7,352.2 961.9,345.7 963.0,340.0 964.1,335.0 965.3,330.5 966.6,326.0 967.8,321.6 969.1,317.8 970.3,314.6 971.6,312.3 973.0,310.5 974.3,309.0 975.7,307.6 977.1,306.5 978.4,305.7 979.8,305.1 981.3,304.6 982.8,304.2 984.3,303.8 985.8,303.5 987.3,303.4 988.8,303.3 990.2,303.4 991.5,303.8 992.9,304.4 994.3,305.1 995.8,307.6 997.3,312.4 998.8,317.8 1000.1,323.3 1001.5,330.0 1002.9,336.9 1004.2,343.2 1005.4,347.7 1006.5,351.7 1007.6,356.0 1008.8,361.3 1010.0,368.8 1011.2,378.1 1012.4,388.5 1013.3,397.5 1014.5,395.6 1015.7,392.2 1016.9,390.3 1018.3,390.4 1019.6,390.5 1021.0,390.8 1022.4,391.0 1023.7,391.1 1025.1,391.2 1026.6,389.6 1028.1,386.5 1029.6,384.9 1030.8,386.2 1031.9,389.4 1033.0,393.5 1034.2,397.5 1035.4,402.7 1036.6,408.4 1037.8,411.1 1039.2,409.2 1040.5,404.8 1041.8,399.7 1043.2,395.7 1044.6,392.7 1046.0,389.8 1047.3,387.6 1048.7,386.7 1050.0,388.0 1051.4,390.8 1052.8,393.5 1054.1,394.8 1055.5,394.8 1056.8,394.7 1058.2,394.5 1059.5,394.4 1060.9,394.2 1062.3,394.0 1063.6,393.9 1065.0,393.9 1066.5,395.0 1068.0,397.7 1069.5,401.2 1071.0,407.2 1072.5,415.7 1074.0,424.0 1075.3,430.3 1076.7,436.4 1078.1,442.3 1079.4,448.0 1080.7,453.6 1082.0,459.1 1083.3,464.2 1084.6,468.5 1085.8,472.3 1087.1,475.6 1088.3,477.0 1089.8,475.7 1091.2,472.2 1092.7,467.0 1094.1,452.7 1095.5,433.0 1096.8,416.8 1098.1,400.9 1099.4,388.5 1100.6,380.1 1101.8,373.2 1103.0,368.5 1104.2,365.0 1105.5,362.4 1106.7,361.3 1108.2,363.3 1109.7,368.5 1111.2,375.8 1112.6,389.5 1113.9,406.6 1115.0,417.3 1116.0,427.2 1117.1,436.3 1118.3,446.8 1119.5,456.5 1120.7,461.6 1122.0,462.9 1123.4,463.6 1124.8,464.2 1126.1,465.3 1127.3,467.5 1128.6,471.2 1129.8,476.1 1131.0,484.4 1132.2,496.4 1133.4,508.8 1134.6,521.0 1135.8,533.6 1137.0,545.0 1138.2,555.3 1139.4,564.8 1140.6,572.2 1141.7,576.6 1142.7,580.0 1143.8,583.9 1144.9,589.4 1145.9,595.5 1147.0,599.9 1148.2,602.5 1149.4,604.3 1150.6,605.9 1151.8,607.9 1153.0,610.9 1154.2,614.6 1155.4,617.7 1156.6,619.0 1157.9,617.4 1159.3,614.3 1160.6,612.7 1161.7,615.9 1162.7,623.0 1163.8,630.2 1164.9,637.2 1165.9,644.3 1167.0,649.4 1168.1,652.7 1169.2,654.2 1170.3,652.1 1171.4,647.0 1172.5,641.0 1173.6,633.8 1174.6,624.8 1175.7,615.8 1176.9,605.6 1178.1,596.7 1179.4,589.9 1180.8,584.3 1182.1,580.0 1183.5,576.8 1184.9,574.4 1186.4,571.9 1187.8,568.6 1189.2,563.8 1190.5,557.5 1191.8,549.9 1193.2,541.4 1194.4,530.1 1195.6,516.9 1196.8,508.8 1198.0,506.2 1199.3,504.4 1200.5,503.3 1201.7,502.6 1202.9,502.2 1204.1,501.5 1205.3,499.4 1206.5,495.5 1207.8,491.1 1209.0,486.9 1210.2,484.1 1211.7,482.4 1213.1,481.2 1214.5,480.0 1216.0,478.3 1217.5,475.4 1218.9,471.3 1220.3,466.7 1221.8,462.4 1223.2,458.2 1224.7,454.0 1226.1,450.8 1227.4,448.5 1228.7,446.4 1230.0,444.5 1231.3,443.3 1232.6,442.8 1233.8,446.4 1235.1,454.0 1236.3,460.9 1237.8,467.1 1239.2,471.1 1240.7,472.3 1242.1,473.2 1243.5,473.8 1245.0,474.0 1246.3,472.9 1247.6,470.4 1248.9,467.4 1250.2,464.9 1251.5,463.8 1252.8,464.1 1254.0,465.1 1255.3,466.5 1256.6,468.2 1257.8,471.7 1259.0,477.0 1260.2,481.2 1261.4,483.9 1262.6,486.1 1263.8,487.0 1265.3,484.0 1266.7,478.4 1268.2,475.4 1269.6,476.1 1271.1,477.8 1272.5,479.8 1274.0,482.2 1275.4,485.1 1276.8,488.3 1278.3,491.4 1279.8,494.4 1281.2,497.5 1282.6,500.4 1284.1,503.0 1285.6,505.1 1287.0,506.9 1288.5,508.6 1289.9,510.6 1291.4,513.1 1292.8,517.3 1294.3,522.6 1295.7,526.2 1297.2,527.7 1298.6,528.6 1300.1,529.3 1301.5,530.3 1303.0,532.0 1304.5,537.6 1305.9,545.0 1307.3,551.1 1308.8,556.9 1310.2,561.0 1311.7,563.4 1313.1,565.3 1314.6,566.8 1316.0,568.2 1317.5,569.3 1318.9,570.4 1320.4,571.4 1321.8,572.6 1323.3,574.0 1324.7,575.8 1326.2,577.9 1327.6,579.8 1329.0,581.6 1330.5,583.5 1332.0,585.0 1333.4,585.6 1334.9,584.7 1336.3,582.5 1337.8,580.0 1339.2,577.8 1340.7,576.9 1342.1,577.9 1343.6,580.4 1345.0,584.0 1346.2,590.6 1347.5,598.1 1348.8,603.6 1350.2,607.2 1351.3,608.3 1352.5,609.0 1353.7,609.6 1354.8,610.8 1356.2,615.3 1357.5,621.7 1358.8,626.8 1360.0,632.0" fill="none" stroke="#ff0000" stroke-width="3.4" stroke-linejoin="round" stroke-linecap="butt"/>
<polyline points="68.7,134.8 70.2,134.7 71.7,134.7 73.2,134.5 74.7,134.6 76.2,134.3 77.7,134.2 79.2,134.4 80.7,134.7 82.2,133.9 83.7,134.7 85.2,134.8 86.7,134.3 88.2,134.1 89.7,133.9 91.2,133.9 92.6,134.0 94.1,134.5 95.6,133.6 97.1,134.3 98.6,134.2 100.1,133.5 101.6,133.6 103.1,134.2 104.6,134.1 106.1,133.7 107.6,134.3 109.1,133.6 110.6,133.8 112.1,133.5 113.6,134.0 115.1,133.4 116.6,133.5 118.1,134.1 119.6,133.8 121.1,133.9 122.6,134.0 124.1,133.9 125.6,133.5 127.1,134.0 128.6,133.4 130.1,133.5 131.6,133.7 133.1,133.3 134.6,133.3 136.1,133.9 137.5,134.0 139.0,133.6 140.5,133.6 142.0,133.4 143.5,133.7 145.0,133.8 146.5,134.1 148.0,133.2 149.5,134.1 151.0,134.2 152.5,133.5 154.0,133.9 155.5,134.0 157.0,133.9 158.5,133.5 160.0,133.8 161.3,134.9 162.7,135.7 164.0,137.0 165.4,136.6 166.9,137.4 168.3,137.4 169.8,136.7 171.2,137.4 172.7,137.4 174.1,136.8 175.6,137.2 177.0,137.4 178.4,137.0 179.9,137.2 181.3,137.7 182.8,137.4 184.2,137.3 185.7,136.8 187.1,136.9 188.6,137.7 190.0,137.6 191.2,137.6 192.4,138.0 193.7,138.6 194.9,139.2 196.3,140.1 197.8,141.3 199.2,142.7 200.7,144.3 202.2,146.1 203.6,148.1 205.1,150.2 206.5,152.3 208.0,154.5 209.4,156.7 210.9,158.8 212.3,160.9 213.8,163.0 215.2,165.1 216.7,167.4 218.1,169.6 219.6,172.0 221.0,174.3 222.4,176.8 223.9,179.2 225.3,181.7 226.8,184.2 228.2,186.7 229.7,189.2 231.1,191.6 232.5,194.1 233.8,196.7 235.2,199.3 236.6,201.9 238.0,204.6 239.4,207.2 240.8,209.8 242.1,212.4 243.5,215.0 244.9,217.5 246.3,220.0 247.7,222.5 249.0,225.0 250.4,227.5 251.8,230.0 253.2,232.4 254.6,234.8 256.0,237.1 257.3,239.4 258.7,241.5 260.1,243.6 261.6,245.7 263.0,247.8 264.5,249.9 265.9,251.9 267.4,253.9 268.8,255.8 270.2,257.6 271.7,259.4 273.1,261.1 274.6,262.6 276.1,264.0 277.5,265.3 278.9,266.5 280.4,267.7 281.9,268.8 283.3,270.0 284.8,271.0 286.2,272.0 287.6,273.0 289.1,273.8 290.5,274.6 292.0,275.2 293.4,275.8 294.9,276.2 296.4,276.6 297.8,276.9 299.3,277.2 300.7,277.6 302.2,277.9 303.6,278.1 305.1,278.4 306.5,278.6 308.0,278.9 309.4,279.0 310.9,279.2 312.3,279.3 313.8,279.4 315.2,279.5 316.7,279.5 318.1,279.5 319.6,279.4 321.0,279.3 322.5,279.2 323.9,279.0 325.4,278.8 326.8,278.6 328.3,278.3 329.7,278.1 331.2,277.8 332.6,277.5 334.1,277.2 335.5,276.8 337.0,276.5 338.4,276.2 339.8,275.8 341.3,275.4 342.8,275.0 344.2,274.5 345.6,273.9 347.1,273.3 348.6,272.6 350.0,271.9 351.4,271.1 352.9,270.1 354.3,269.0 355.8,267.7 357.2,266.4 358.7,265.1 360.1,263.7 361.6,262.3 363.0,261.0 364.5,259.7 365.9,258.3 367.4,256.9 368.8,255.4 370.3,254.0 371.7,252.5 373.2,251.0 374.6,249.4 376.1,247.9 377.6,246.3 379.0,244.7 380.5,243.1 381.9,241.4 383.4,239.7 384.8,238.0 386.2,236.3 387.7,234.7 389.1,233.0 390.6,231.4 392.1,229.8 393.5,228.3 394.9,226.8 396.4,225.4 397.9,223.9 399.3,222.5 400.8,221.1 402.2,219.7 403.6,218.3 405.1,217.0 406.5,215.7 408.0,214.4 409.4,213.2 410.9,212.0 412.3,210.9 413.7,209.7 415.0,208.6 416.4,207.5 417.8,206.4 419.2,205.3 420.6,204.3 422.0,203.4 423.3,202.6 424.7,201.8 426.1,201.2 427.5,200.6 428.8,200.0 430.2,199.5 431.6,199.0 432.9,198.5 434.3,198.2 435.6,198.0 437.0,197.9 438.4,198.1 439.8,198.5 441.1,199.2 442.5,200.0 443.9,201.8 445.2,205.0 446.5,208.3 447.9,210.9 449.2,212.6 450.5,214.1 451.8,215.5 453.1,216.6 454.4,217.5 455.7,218.3 456.9,219.0 458.2,219.7 459.5,220.2 460.7,220.6 462.0,220.7 463.4,220.1 464.8,218.7 466.1,216.9 467.5,215.3 468.9,213.9 470.4,212.4 471.8,211.0 473.3,209.5 474.7,208.0 476.2,206.6 477.6,205.1 479.1,203.6 480.5,202.2 482.0,200.7 483.4,199.3 484.9,197.9 486.3,196.4 487.8,195.0 489.2,193.5 490.7,192.1 492.1,190.6 493.6,189.2 495.1,187.7 496.5,186.1 498.0,184.5 499.4,183.0 500.9,182.0 502.3,180.6 503.7,179.6 505.2,178.7 506.6,178.0 508.1,176.9 509.5,176.3 511.0,175.6 512.4,175.2 513.9,174.2 515.3,173.5 516.7,173.2 518.1,172.9 519.5,173.2 520.9,172.7 522.3,172.4 523.7,171.8 525.1,171.2 526.5,171.3 527.9,171.4 529.3,170.8 530.7,170.6 532.1,170.1 533.5,169.6 534.9,169.7 536.4,169.2 537.8,168.7 539.3,168.3 540.7,168.4 542.2,167.6 543.6,167.5 545.1,166.8 546.5,166.9 548.0,166.2 549.4,165.9 550.9,166.0 552.3,165.4 553.8,165.1 555.2,164.4 556.7,164.5 558.1,163.8 559.6,164.1 561.0,163.7 562.5,163.1 563.9,163.0 565.4,162.4 566.8,162.3 568.3,161.4 569.7,162.0 571.2,161.5 572.6,160.6 574.1,160.4 575.5,160.4 577.0,160.4 578.4,159.4 579.9,160.0 581.3,159.0 582.8,159.4 584.2,158.8 585.7,158.2 587.1,157.8 588.6,157.2 590.0,156.9 591.5,157.1 592.9,157.0 594.4,156.9 595.8,156.0 597.3,156.4 598.7,155.5 600.2,155.9 601.6,155.7 603.1,154.8 604.5,155.3 606.0,155.0 607.4,154.8 608.9,154.8 610.3,154.4 611.8,154.2 613.2,153.9 614.7,154.3 616.1,154.2 617.6,153.3 619.0,153.8 620.5,153.2 621.9,153.0 623.3,152.9 624.7,153.2 626.1,152.8 627.5,152.7 628.9,152.4 630.3,152.6 631.6,152.9 633.0,152.1 634.4,152.5 635.8,152.5 637.2,151.9 638.6,152.1 640.0,153.0 641.5,153.1 642.9,152.7 644.4,151.3 645.8,152.4 647.3,151.6 648.7,151.0 650.2,151.5 651.6,152.3 653.1,152.1 654.5,151.1 656.0,150.4 657.4,152.0 658.9,152.1 660.3,151.1 661.8,150.6 663.3,151.2 664.8,151.5 666.3,151.1 667.8,150.8 669.3,150.6 670.8,150.7 672.3,150.2 673.8,150.6 675.3,152.0 676.8,150.1 678.3,151.6 679.8,151.7 681.3,150.9 682.7,152.1 684.0,153.3 685.4,156.1 686.8,157.0 688.2,157.1 689.6,156.5 691.1,157.4 692.5,157.2 693.9,156.5 695.3,156.6 696.8,155.7 698.2,156.9 699.6,156.2 701.0,156.6 702.5,155.3 703.9,156.5 705.3,154.7 706.7,155.5 708.2,154.6 709.6,154.7 711.1,155.7 712.5,154.3 714.0,154.8 715.4,154.4 716.9,155.6 718.3,154.0 719.8,154.5 721.2,155.4 722.7,155.0 724.1,155.0 725.6,155.5 727.0,153.4 728.4,154.6 729.8,154.7 731.1,154.6 732.5,154.4 733.9,152.9 735.3,152.8 736.7,154.1 738.1,153.7 739.4,152.9 740.8,152.3 742.2,153.4 743.3,153.6 744.4,157.0 745.5,157.3 746.6,153.2 747.7,142.3 748.8,138.1 749.8,141.5 750.9,147.4 752.2,147.3 753.5,146.8 754.9,148.4 756.2,148.0 757.5,147.6 758.8,149.5 760.1,150.2 761.4,153.1 762.7,153.3 764.0,155.4 765.5,153.7 767.0,155.1 768.5,154.4 770.0,154.7 771.4,155.2 772.9,154.1 774.4,154.6 775.9,154.4 777.4,155.7 778.9,154.7 780.4,155.3 781.9,155.0 783.4,154.9 784.9,156.3 786.3,155.5 787.8,155.8 789.3,155.9 790.8,156.1 792.3,155.0 793.6,153.6 795.0,152.1 796.4,149.3 797.7,147.9 799.0,149.9 800.2,149.7 801.5,149.9 802.8,150.0 804.0,152.0 805.3,152.3 806.8,152.5 808.2,155.2 809.6,156.4 811.1,157.4 812.5,158.0 814.0,157.7 815.5,156.5 816.9,155.5 818.4,152.3 819.8,150.9 821.2,148.1 822.7,147.3 824.2,149.1 825.6,149.1 827.0,150.9 828.5,152.3 830.0,153.4 831.4,153.5 832.9,154.3 834.3,154.2 835.8,155.0 837.2,155.2 838.6,153.7 840.1,154.4 841.5,154.8 843.0,154.7 844.5,154.7 845.9,156.3 847.4,154.7 848.8,155.2 850.2,156.4 851.7,155.5 853.1,155.7 854.6,157.3 856.0,157.0 857.5,156.5 858.9,156.0 860.3,156.4 861.7,157.9 863.1,157.6 864.5,156.2 865.9,157.6 867.3,157.0 868.7,157.8 870.1,157.0 871.5,156.8 872.9,156.7 874.3,157.5 875.7,158.8 877.1,159.1 878.4,158.7 879.7,159.4 881.0,160.3 882.3,161.6 883.6,163.1 885.1,166.4 886.5,171.7 888.0,178.3 889.4,186.5 890.9,197.1 892.3,208.8 893.4,218.9 894.5,230.1 895.6,241.4 897.1,256.2 898.5,271.0 900.0,284.9 901.2,297.2 902.4,309.0 903.6,314.2 904.8,312.6 905.9,308.4 907.1,302.5 908.2,296.0 909.4,286.0 910.6,273.0 911.8,261.6 913.0,252.6 914.2,244.8 915.4,239.8 916.6,237.1 917.8,235.2 919.0,234.4 920.1,235.1 921.3,237.1 922.5,240.0 923.6,243.5 924.8,250.1 926.0,259.8 927.2,268.8 928.4,275.6 929.6,282.0 930.8,288.8 932.0,297.4 933.2,306.7 934.4,314.2 935.8,320.2 937.1,325.0 938.5,329.4 939.9,334.1 941.2,339.5 942.6,345.1 943.9,350.2 945.3,354.0 946.5,356.5 947.7,358.6 948.9,359.5 950.0,358.9 951.2,357.4 952.4,355.0 953.5,352.2 955.0,344.3 956.5,331.4 958.0,317.8 959.2,307.0 960.4,295.5 961.6,285.1 962.8,275.7 964.1,267.0 965.3,259.8 966.8,252.5 968.3,246.3 969.8,241.6 971.1,238.7 972.3,236.2 973.6,234.1 974.8,232.3 976.1,230.8 977.6,229.5 979.0,228.4 980.5,227.5 981.9,226.5 983.4,225.3 984.8,223.7 986.1,221.6 987.4,219.7 988.8,218.1 990.2,216.8 991.5,215.6 992.9,214.7 994.3,214.4 995.5,215.9 996.7,219.4 997.9,223.5 999.2,229.3 1000.6,236.9 1001.9,245.0 1003.3,252.5 1004.7,258.8 1006.0,264.5 1007.4,270.6 1008.8,277.9 1010.0,286.2 1011.2,296.1 1012.4,306.9 1013.3,316.0 1014.8,314.3 1016.3,311.3 1017.8,309.6 1019.3,309.6 1020.7,309.6 1022.2,309.6 1023.6,309.6 1025.1,309.6 1026.6,306.5 1028.1,300.9 1029.6,297.8 1030.8,298.6 1031.9,300.6 1033.0,303.6 1034.2,306.9 1035.4,313.6 1036.6,322.4 1037.8,326.8 1039.2,324.0 1040.5,317.7 1041.8,311.0 1043.2,306.9 1044.3,305.5 1045.5,304.4 1046.7,303.6 1047.8,303.3 1049.3,305.5 1050.8,310.5 1052.3,316.0 1053.5,321.3 1054.7,326.9 1055.9,329.6 1057.4,326.8 1058.9,320.9 1060.4,316.0 1061.6,313.5 1062.7,311.2 1063.8,309.4 1065.0,308.7 1066.5,310.1 1068.0,313.5 1069.5,317.8 1071.0,323.9 1072.5,332.0 1074.0,339.5 1075.4,344.8 1076.8,349.6 1078.1,354.4 1079.5,359.5 1081.0,366.3 1082.5,373.5 1084.0,379.4 1085.5,384.3 1087.0,388.5 1088.5,390.3 1089.7,389.6 1091.0,387.8 1092.2,384.9 1093.4,373.5 1094.6,353.0 1095.8,334.1 1097.0,320.2 1098.2,307.5 1099.4,296.0 1100.8,283.2 1102.1,274.3 1103.2,270.7 1104.4,267.8 1105.5,265.9 1106.7,265.2 1108.2,267.2 1109.7,272.4 1111.2,279.7 1112.6,292.9 1113.9,310.5 1115.2,327.3 1116.6,343.2 1117.8,357.3 1119.1,370.2 1120.3,375.8 1121.5,375.8 1122.7,375.8 1123.9,375.8 1125.4,375.6 1126.9,375.1 1128.4,374.9 1129.8,377.4 1131.1,383.0 1132.5,397.0 1134.0,420.1 1135.4,443.9 1136.2,458.0 1137.0,468.9 1138.2,475.4 1139.4,479.6 1140.6,483.4 1142.0,487.7 1143.3,491.5 1144.7,495.4 1146.1,499.7 1147.4,505.7 1148.8,510.6 1150.2,512.4 1151.5,513.4 1152.8,514.4 1154.2,516.0 1155.6,520.2 1157.0,523.3 1158.2,521.9 1159.4,519.2 1160.6,517.8 1161.9,520.6 1163.3,526.9 1164.7,542.7 1166.0,559.5 1167.3,568.1 1168.7,572.2 1170.1,567.4 1171.5,557.7 1172.7,546.3 1173.9,531.7 1175.1,517.8 1176.4,504.0 1177.8,492.5 1179.2,484.0 1180.5,478.0 1181.9,474.6 1183.2,472.2 1184.6,470.0 1186.0,467.1 1187.3,463.5 1188.6,459.3 1189.9,454.4 1191.2,448.7 1192.5,442.1 1193.8,432.7 1195.2,420.4 1196.1,408.0 1197.0,398.6 1198.4,395.3 1199.8,394.1 1201.2,394.1 1202.5,394.1 1203.8,394.1 1205.2,394.1 1206.5,391.2 1207.9,384.5 1209.2,377.4 1210.6,373.2 1212.1,371.7 1213.5,370.8 1215.0,370.1 1216.4,369.2 1217.9,367.8 1219.2,364.5 1220.4,358.8 1221.7,352.2 1222.9,346.2 1224.2,342.4 1225.6,340.0 1226.9,337.9 1228.3,336.0 1229.7,334.6 1231.0,333.6 1232.4,333.3 1233.6,337.7 1234.8,346.9 1236.0,355.1 1237.2,361.0 1238.3,366.9 1239.4,371.4 1240.6,373.2 1241.9,373.1 1243.1,372.8 1244.4,372.3 1245.6,371.9 1246.9,371.4 1248.4,370.7 1249.9,370.0 1251.4,369.6 1252.6,370.8 1253.7,373.6 1254.8,377.2 1256.0,380.5 1257.3,384.2 1258.5,388.5 1259.8,392.6 1261.0,395.6 1262.3,396.8 1263.6,395.9 1264.9,393.6 1266.1,390.9 1267.4,388.6 1268.7,387.7 1270.0,388.0 1271.4,388.8 1272.8,390.0 1274.1,391.4 1275.4,394.5 1276.8,399.6 1278.2,405.2 1279.5,409.5 1280.7,411.9 1281.8,413.9 1283.0,416.0 1284.3,418.9 1285.7,421.9 1287.0,424.7 1288.5,427.2 1289.9,429.4 1291.3,431.8 1292.8,434.8 1294.2,440.2 1295.7,445.0 1297.2,446.9 1298.6,448.0 1300.0,449.1 1301.5,450.8 1303.0,453.6 1304.4,457.6 1305.9,462.4 1307.3,470.0 1308.8,476.9 1310.2,480.2 1311.7,482.6 1313.1,484.1 1314.6,484.9 1316.0,485.4 1317.5,485.8 1318.9,486.2 1320.4,487.0 1321.9,489.1 1323.3,492.6 1324.8,495.8 1326.2,497.2 1327.6,497.1 1329.1,496.9 1330.5,496.6 1332.0,496.2 1333.4,495.7 1334.9,494.6 1336.3,492.9 1337.8,491.3 1339.2,490.6 1340.7,490.8 1342.1,491.6 1343.6,492.8 1345.0,502.3 1346.5,513.1 1347.9,516.5 1349.4,518.7 1350.8,520.4 1352.2,521.6 1353.7,522.4 1355.1,523.3 1356.6,524.7 1358.0,528.2 1359.5,533.4" fill="none" stroke="#000000" stroke-width="3.4" stroke-linejoin="round" stroke-linecap="butt"/>
<rect x="68.2" y="1210" width="1.6" height="13" fill="#8a8a8a"/>
<rect x="252.4" y="1210" width="1.6" height="13" fill="#9a9a9a"/>
<rect x="436.6" y="1210" width="1.6" height="13" fill="#9a9a9a"/>
<rect x="620.8" y="1210" width="1.6" height="13" fill="#9a9a9a"/>
<rect x="805.0" y="1210" width="1.6" height="13" fill="#9a9a9a"/>
<rect x="989.2" y="1210" width="1.6" height="13" fill="#9a9a9a"/>
<rect x="1173.4" y="1210" width="1.6" height="13" fill="#8a8a8a"/>
<rect x="1357.6" y="1210" width="1.6" height="13" fill="#9a9a9a"/>
<text transform="translate(69.2,1281.4) scale(0.669,1)" text-anchor="middle" font-family="Liberation Sans, sans-serif" font-size="49.4" fill="#000">4000</text>
<text transform="translate(253.4,1281.4) scale(0.669,1)" text-anchor="middle" font-family="Liberation Sans, sans-serif" font-size="49.4" fill="#000">3500</text>
<text transform="translate(437.6,1281.4) scale(0.669,1)" text-anchor="middle" font-family="Liberation Sans, sans-serif" font-size="49.4" fill="#000">3000</text>
<text transform="translate(621.8,1281.4) scale(0.669,1)" text-anchor="middle" font-family="Liberation Sans, sans-serif" font-size="49.4" fill="#000">2500</text>
<text transform="translate(806.0,1281.4) scale(0.669,1)" text-anchor="middle" font-family="Liberation Sans, sans-serif" font-size="49.4" fill="#000">2000</text>
<text transform="translate(990.2,1281.4) scale(0.669,1)" text-anchor="middle" font-family="Liberation Sans, sans-serif" font-size="49.4" fill="#000">1500</text>
<text transform="translate(1174.4,1281.4) scale(0.669,1)" text-anchor="middle" font-family="Liberation Sans, sans-serif" font-size="49.4" fill="#000">1000</text>
<text transform="translate(1358.6,1281.4) scale(0.669,1)" text-anchor="middle" font-family="Liberation Sans, sans-serif" font-size="49.4" fill="#000">500</text>
<text transform="translate(572.9,1343.6) scale(0.689,1)" font-family="Liberation Sans, sans-serif" font-size="47.12" fill="#000">Wavenumber [cm</text>
<text transform="translate(826.2,1330.3) scale(0.6,1)" font-family="Liberation Sans, sans-serif" font-size="34.6" fill="#000">-1</text>
<text transform="translate(845.9,1343.6) scale(0.689,1)" font-family="Liberation Sans, sans-serif" font-size="47.12" fill="#000">]</text>
<text transform="translate(46.5,564.5) rotate(-90) scale(1.405,1)" text-anchor="middle" font-family="Liberation Sans, sans-serif" font-size="34" fill="#000">Transmitance</text>
<text transform="translate(88.46,110.7) scale(0.6381,1)" font-family="Liberation Sans, sans-serif" font-weight="bold" font-size="43.33" fill="#000000">Exp. 1</text>
<text transform="translate(86.6,214.9) scale(0.6633,1)" font-family="Liberation Sans, sans-serif" font-weight="bold" font-size="43.0" fill="#ff0000">Exp. 2</text>
<text transform="translate(88.39,301.9) scale(0.6674,1)" font-family="Liberation Sans, sans-serif" font-weight="bold" font-size="43.0" fill="#00b050">Exp. 3</text>
<text transform="translate(87.8,402.8) scale(0.6624,1)" font-family="Liberation Sans, sans-serif" font-weight="bold" font-size="43.19" fill="#7030a0">Exp. 4</text>
<text transform="translate(87.78,495.5) scale(0.6604,1)" font-family="Liberation Sans, sans-serif" font-weight="bold" font-size="43.62" fill="#00b0f0">Exp. 5</text>
<text transform="translate(90.77,599.2) scale(0.6282,1)" font-family="Liberation Sans, sans-serif" font-weight="normal" font-size="46.29" fill="#7f7f7f">Exp. 6</text>
<text transform="translate(91.07,697.3) scale(0.6182,1)" font-family="Liberation Sans, sans-serif" font-weight="bold" font-size="46.81" fill="#c55a11">Exp. 7</text>
</svg>
</body></html>
